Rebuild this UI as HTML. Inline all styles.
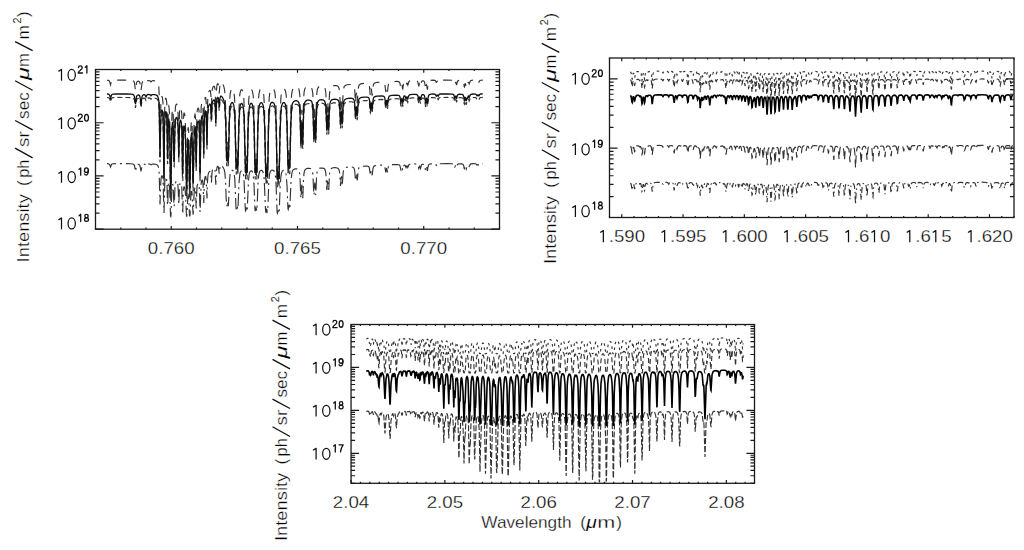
<!DOCTYPE html><html><head><meta charset="utf-8"><style>html,body{margin:0;padding:0;background:#fff;width:1024px;height:550px;overflow:hidden}svg{display:block}text{font-family:"Liberation Sans", sans-serif;fill:#000;stroke:#fff;stroke-width:0.3px}</style></head><body>
<svg width="1024" height="550" viewBox="0 0 1024 550">
<path d="M107.0 80.2l1.5 0.2 0.7 0.5 0.6 1 0.7 2.8 1 -3.4 0.5 -0.6 1 -0.4 3.5 -0.2 10.3 0.1 4 0.1 2 0.3 1 0.7 0.7 1.7 1 7.6 1 -7.5 0.5 -1.3 0.8 -0.6 0.7 -0.1 0.5 0.2 0.8 1 0.4 2.1 0.8 6.3 1 -7.6 0.5 -1.3 0.7 -0.7 1 -0.2 0.8 0.3 1 2 1 -2 0.5 -0.4 1 -0.2 1.5 0.2 1 1.1 0.8 -0.8 0.4 -0.3 1.3 -0.1 1.7 0.3 1.6 0.6 1 1.1 0.4 1.2 0.6 2.8 0.4 8.1 0.8 52.9 0.5 -32 0.5 -14.7 0.5 -3.8 0.3 -0.6 0.2 -0.1 0.5 1.3 0.5 5.1 0.5 23.4 0.5 51.3 0.5 -62.2 0.5 -14 0.5 -2.9 0.3 -0.3 0.2 0.2 0.5 2.1 0.3 2.6 0.4 19 0.3 27.6 0.3 -1.2 0.4 -37.4 0.3 -4 0.3 -0.9 0.2 0.9 0.5 6.8 0.3 8.1 0.7 74.7 0.3 4.3 0.7 -69.2 0.5 -17.6 0.5 -4.7 0.3 -0.1 0.2 1.3 0.2 3.3 0.8 38.6 0.2 0.1 0.6 -32.3 0.2 -7.5 0.5 -6.2 0.5 -2 0.2 -0.4 0.6 -0.1 0.4 0.9 0.6 2.8 0.4 10.7 0.6 29 0.7 -35.5 0.3 -2.9 0.4 -2 0.3 -0.1 0.3 0.2 0.4 1.7 0.6 5.1 0.2 6.8 0.5 48 0.3 1.6 0.4 -47.4 0.6 -9 0.2 -1 0.2 0 0.6 1.8 0.4 5.4 0.6 14.7 0.7 63.4 0.3 0.4 0.7 -59.3 0.3 -7.9 0.2 -3.5 0.2 -0.8 0.3 1.8 0.3 5.2 0.2 10.9 0.5 46.8 0.3 7.6 0.2 -8.4 0.8 -59.8 0.2 -6.1 0.5 -4.6 0.3 0.3 0.2 2.1 0.2 4.8 0.8 54.6 0.2 3.5 0.8 -58.6 0.2 -6.8 0.6 -5.6 0.2 -0.7 0.2 0.7 0.3 2.9 0.7 41.4 0.3 -25.3 0.5 -20.6 0.2 -2.7 0.6 -2.1 0.4 -0.5 0.3 0.1 0.5 2.4 0.5 11.5 0.5 50.1 0.2 -6.9 0.6 -47.7 0.4 -11 0.6 -3.2 0.2 -0.7 0.2 -0.1 0.3 0.4 0.5 5.2 0.8 35.5 0.4 -34.3 0.3 -6.2 0.5 -4.7 0.2 -0.8 0.3 -0.2 0.3 0.5 0.4 4.5 0.8 31.1 0.5 -28.9 0.5 -9.1 0.5 -2.8 0.5 -1.4 0.8 -1 0.4 0.2 0.3 0.6 0.5 5.7 0.2 7.9 0.3 0.5 0.3 -8.6 0.4 -7.2 0.6 -1.9 0.4 -0.9 0.8 -0.5 0.5 0.4 0.5 2.2 0.2 3.2 0.6 17.7 0.7 -20.4 0.5 -4.3 0.2 -0.7 0.6 -0.6 0.4 0.5 0.3 0.9 0.7 8.4 0.8 -9.1 0.5 -1.7 0.5 -0.5 0.8 0.6 0.7 1 1.3 2.6 0.7 3.3 0.5 4.3 0.8 16.7 0.7 36.1 0.3 5.2 0.7 -11.3 0.7 11.5 1.3 -48.4 0.7 -10.5 0.8 -3.2 0.5 -0.9 0.5 -0.3 0.8 0.3 0.4 0.8 0.8 2.8 0.5 4.3 0.5 9.8 1 49.7 0.2 5.7 0.8 -12.6 0.8 12.7 0.2 -5.7 0.8 -40.9 0.7 -18.4 0.5 -4.3 0.8 -2.6 0.4 -0.6 0.6 -0.1 0.4 0.4 0.6 1.1 0.4 2.1 0.6 4.4 0.4 9.8 1.3 60.6 0.3 -1.6 0.4 -11.1 0.3 2.1 0.5 11 0.2 -3.9 1 -54 0.6 -11.5 0.7 -6.6 0.5 -1.7 0.5 -0.9 0.5 -0.3 0.8 0.3 0.7 1.4 0.7 4.3 0.8 13.4 1 53.7 0.2 5.8 0.8 -13.2 0.8 13.2 0.2 -5.9 0.8 -44.1 0.7 -20.2 0.5 -4.8 0.8 -3.1 0.4 -0.9 0.8 -0.5 0.8 0.1 0.7 0.8 0.7 2.2 0.6 3.2 0.7 12.4 1.3 65.3 0.2 0.1 0.5 -11.9 0.3 0.7 0.4 11.9 0.3 -2 0.3 -11.7 0.7 -45.6 0.7 -17.3 0.6 -4.2 0.4 -2.1 0.6 -1.2 0.7 -0.9 1 -0.3 0.7 0.3 0.8 1 0.8 2.1 0.4 3.1 0.8 11.5 0.5 20.2 0.7 48.7 0.3 3.8 0.5 -11.2 0.2 -2.1 0.6 11.4 0.2 1.6 1 -57.5 0.8 -21.9 0.4 -5.2 0.6 -2.7 0.7 -1.9 0.7 -0.7 0.8 -0.1 0.5 0.3 0.5 0.6 0.5 1.3 0.5 2.4 0.5 5.1 0.7 21.6 0.8 39.8 0.2 1.9 0.6 -11.1 0.2 -0.7 0.5 11.1 0.3 -0.1 1 -49.6 0.7 -15.8 0.5 -3.9 0.5 -2 0.7 -1.6 1.3 -1 1.7 -0.3 1.6 0.5 1 1.4 0.4 1.8 0.6 4.2 0.2 4.3 0.8 31.4 0.2 2.2 0.8 -23.1 0.2 1.8 0.5 18.5 0.3 3.1 0.7 -31.4 0.5 -8.7 0.5 -3.2 0.5 -1.4 0.8 -1.1 1.2 -0.7 1.8 -0.3 1.7 0.5 1 0.9 0.7 2.1 0.6 3.6 0.2 3.9 0.8 27.5 0.2 2 0.8 -20.4 0.2 1.6 0.5 16.3 0.3 2.7 0.7 -27.6 0.5 -7.6 0.5 -2.8 0.5 -1.2 0.8 -1 1.2 -0.6 1.8 -0.2 1.7 0.3 1 0.9 0.7 1.8 0.6 3.5 0.2 3.7 0.8 21.8 0.2 -2.2 0.5 -12.9 0.3 -1.3 0.7 16.1 0.3 -1.6 0.4 -16.5 0.3 -5.2 0.5 -4.8 0.5 -1.9 0.5 -0.8 0.8 -0.7 1.2 -0.5 2.2 -0.2 2 0.4 1 0.7 0.8 1.6 0.5 3.1 0.3 3.3 0.7 17 0.7 -13 0.3 -0.3 0.7 13 0.8 -16 0.2 -3.8 0.6 -3.5 0.4 -1.4 0.6 -0.7 1 -0.7 1.2 -0.4 2.8 -0.3 2.2 0.1 1.2 0.5 0.8 1.1 0.5 2.3 0.3 2.4 0.7 12.3 0.7 -9.4 0.3 -0.3 0.7 9.6 0.8 -11.8 0.2 -2.7 0.6 -2.6 0.4 -1 0.6 -0.6 1 -0.5 1.2 -0.3 2.5 -0.3 2.3 0 1.2 0.3 0.8 0.6 0.4 1.1 0.3 1.2 0.7 8.6 0.3 0.6 0.7 -6.5 0.3 0.5 0.5 5.1 0.2 0.9 0.8 -8.8 0.5 -2.4 0.5 -0.9 0.5 -0.5 1 -0.4 1.5 -0.3 4.8 -0.3 1.4 0.3 0.8 0.4 0.5 0.7 0.3 0.9 1 7.4 0.7 -5 0.3 0.1 0.7 4.8 0.7 -6.4 0.6 -2.1 0.4 -0.7 0.6 -0.4 2 -0.5 5.2 -0.2 1.5 0.2 0.7 0.3 0.8 1.4 0.8 5.1 0.2 0.3 0.8 -3.8 0.2 0.3 0.5 3 0.3 0.6 0.7 -5.1 0.3 -0.9 0.4 -0.7 0.6 0 0.2 0.2 1 3.1 0.8 -2.2 0.2 -0.1 0.8 2.1 1 -3.4 0.7 -0.7 1 -0.3 2 -0.2 2.5 -0.1 1.5 0.2 0.7 0.4 0.6 0.8 1 4.5 0.7 -3.1 0.3 0.1 0.7 3 1 -4.7 0.7 -0.8 1 0 0.8 0.4 0.5 0.8 0.5 2.6 0.5 4.6 0.3 -0.1 0.4 -3.8 0.3 -0.6 0.3 0.6 0.4 3.7 0.3 0.1 0.5 -4.6 0.5 -2.6 0.7 -1.1 1.6 -0.5 2.2 -0.2 1.8 0.2 0.7 0.4 0.7 1.5 0.3 0.1 0.7 -1.2 0.3 0.1 0.7 1.1 0.8 -1.5 0.5 -0.5 0.7 -0.2 6.8 -0.1 5.2 0.2 1 0.3 0.6 0.5 1 3.6 0.2 -0.3 0.5 -1.8 0.3 -0.2 0.7 2.2 0.3 -0.2 0.4 -2.3 0.3 -0.7 0.5 -0.7 1.5 -0.4 2.3 0.2 1 0.4 0.4 0.6 0.6 1.7 0.4 3.5 0.3 0.3 0.5 -2.7 0.2 -0.6 0.3 0.3 0.7 3.5 0.6 -2.5 0.2 -0.6 0.5 0.3 0.7 -2.3 0.3 -0.1 0.3 0.3 0.4 1.3 1 -2.8 0.8 -0.6 2 -0.3 2.5 0.1 0.7 0.4 0.8 1.4 0.2 0 0.8 -1 0.8 1 0.2 0 0.5 -1 0.5 -0.6 1 -0.3 1.8 -0.1" fill="none" stroke="#333" stroke-width="1.15" stroke-dasharray="9 7"/>
<path d="M107.0 97.5l1.5 0.2 0.7 0.5 0.6 0.9 0.7 2.8 1 -3.3 0.5 -0.6 1 -0.4 3.5 -0.2 10.3 0.1 4 0.1 2 0.3 1 0.7 0.7 1.6 1 7.6 1 -7.5 0.5 -1.2 0.8 -0.6 0.7 -0.1 0.5 0.2 0.8 1 0.4 2.1 0.8 6.2 1 -7.5 0.5 -1.3 0.7 -0.7 1 -0.2 0.8 0.3 1 2 1 -2.1 0.5 -0.3 1 -0.2 1.5 0.2 1 1.1 0.8 -0.8 0.4 -0.3 1.3 -0.1 1.7 0.2 1.6 0.6 1 1.1 0.4 1.3 0.6 2.8 0.4 8 0.8 50.3 0.5 -29.9 0.5 -14.3 0.5 -3.7 0.3 -0.6 0.2 -0.1 0.5 1.2 0.5 5.1 0.5 22.6 0.3 32.6 0.2 10.8 0.5 -53.9 0.5 -13.6 0.5 -2.9 0.3 -0.3 0.2 0.2 0.5 2 0.3 2.7 0.4 18.3 0.3 25.5 0.3 -1 0.4 -35.1 0.3 -3.8 0.3 -0.9 0.2 0.8 0.5 6.7 0.3 7.7 0.7 58.6 0.3 1.9 0.2 -5.9 0.8 -56.2 0.2 -5.9 0.5 -4.5 0.3 -0.1 0.2 1.2 0.2 3.2 0.8 35.8 0.2 0.2 0.6 -29.8 0.2 -7.2 0.5 -6 0.5 -2 0.2 -0.4 0.6 -0.1 0.4 0.9 0.6 2.7 0.4 10.4 0.6 27 0.7 -33.3 0.3 -2.8 0.4 -1.9 0.3 -0.2 0.3 0.3 0.4 1.6 0.6 5 0.2 6.6 0.5 42.3 0.3 1.2 0.4 -41.5 0.6 -8.6 0.2 -1 0.2 -0.1 0.6 1.9 0.4 5.2 0.6 13.9 0.7 47 0.3 0.2 0.2 -9.5 0.5 -33.6 0.3 -7.3 0.2 -3.3 0.2 -0.8 0.6 6.6 0.7 44.5 0.3 3.7 0.2 -4.1 0.8 -46.8 0.2 -5.8 0.5 -4.3 0.3 0.2 0.2 2 0.2 4.6 0.8 45 0.2 2.2 0.8 -47.7 0.2 -6.4 0.6 -5.5 0.2 -0.6 0.2 0.6 0.3 2.8 0.7 37.7 0.3 -22.4 0.5 -19.6 0.2 -2.6 0.6 -2.1 0.4 -0.5 0.3 0.2 0.5 2.3 0.5 11.1 0.5 43.6 0.2 -5.2 0.6 -42.8 0.4 -10.6 0.6 -3.2 0.2 -0.7 0.2 -0.1 0.3 0.5 0.5 5 0.8 33.6 0.4 -32.4 0.3 -6.1 0.5 -4.6 0.2 -0.8 0.3 -0.2 0.3 0.5 0.4 4.5 0.8 29.8 0.5 -27.7 0.5 -8.9 0.5 -2.9 0.5 -1.3 0.8 -0.9 0.4 0.1 0.3 0.6 0.5 5.6 0.2 7.8 0.3 0.5 0.3 -8.5 0.4 -7.1 0.6 -1.9 0.4 -0.9 0.8 -0.4 0.5 0.3 0.5 2.2 0.2 3.2 0.6 17.4 0.7 -20.1 0.5 -4.2 0.2 -0.8 0.6 -0.5 0.4 0.4 0.3 0.9 0.7 8.4 0.8 -9 0.5 -1.7 0.5 -0.5 0.8 0.6 0.7 0.9 1.3 2.7 0.7 3.2 0.5 4.3 0.8 16.3 0.7 34 0.3 4.6 0.7 -10.1 0.7 10.2 0.3 -4.5 1 -40.9 0.7 -10.3 0.8 -3.2 0.8 -1 0.7 0 0.5 0.5 0.8 1.9 0.7 5.6 0.5 9.5 1 46.2 0.2 4.6 0.8 -10.6 0.8 10.7 0.2 -4.7 0.8 -37.5 0.7 -17.9 0.5 -4.3 0.8 -2.6 0.4 -0.6 0.6 -0.1 0.4 0.5 0.6 1 0.4 2.1 0.6 4.3 0.4 9.6 1.3 54.7 0.3 -1.2 0.4 -8.9 0.3 1.6 0.5 8.8 0.2 -3 1 -48.9 0.6 -11.3 0.7 -6.5 0.5 -1.7 0.5 -0.9 0.5 -0.3 0.8 0.3 0.7 1.4 0.7 4.2 0.8 13.2 1 49 0.2 4.5 0.8 -10.6 0.8 10.6 0.2 -4.5 1 -49 0.5 -10.5 0.5 -4.7 0.5 -2.4 0.5 -1.2 0.5 -0.6 0.7 -0.3 0.8 0.3 0.5 0.6 0.7 2.2 0.6 3.1 0.7 12.3 1.3 58 0.2 0.1 0.5 -9.1 0.3 0.6 0.4 9 0.3 -1.5 0.3 -9 0.7 -41.5 0.7 -16.9 0.6 -4.2 0.4 -2.1 0.6 -1.2 0.7 -0.9 0.7 -0.3 0.8 0.2 0.8 0.7 0.7 1.6 0.7 3.9 0.8 11.4 1 50.7 0.2 10.2 0.3 2.6 0.5 -7.9 0.2 -1.7 0.6 8.3 0.2 1.1 0.2 -5.5 0.8 -43.4 0.8 -21.3 0.4 -5.2 0.6 -2.6 0.7 -1.9 0.7 -0.7 0.8 -0.1 0.5 0.3 0.5 0.6 0.5 1.3 0.5 2.4 0.5 5 0.5 11.2 1 45.9 0.2 1.5 0.6 -9.3 0.2 -0.6 0.5 9.3 0.3 -0.1 1 -45.3 0.7 -15.5 0.5 -3.8 0.5 -2 1 -1.8 1.3 -0.9 1.7 -0.1 1.3 0.5 1 1.4 0.4 1.7 0.6 4.1 0.2 4.3 0.8 30.3 0.2 2.1 0.8 -22.2 0.2 1.8 0.5 17.7 0.3 3 0.7 -30.3 0.5 -8.5 0.5 -3.1 0.5 -1.5 1 -1.3 1.2 -0.6 2 -0.1 1.6 0.6 1 1.2 0.4 1.6 0.6 3.6 0.2 3.8 0.8 26.8 0.2 1.8 0.8 -19.6 0.2 1.6 0.5 15.7 0.3 2.6 0.7 -26.8 0.5 -7.5 0.5 -2.7 0.5 -1.3 0.8 -0.9 1.2 -0.7 1.8 -0.2 1.7 0.4 1 0.8 0.7 1.8 0.6 3.5 0.2 3.7 0.8 21.2 0.2 -2.1 0.5 -12.5 0.3 -1.3 0.7 15.6 0.3 -1.5 0.4 -16.1 0.3 -5.2 0.5 -4.7 0.5 -1.8 0.5 -0.9 0.8 -0.7 1.2 -0.5 2.2 -0.1 2 0.3 1 0.7 0.8 1.6 0.5 3.1 0.3 3.3 0.7 16.6 0.7 -12.7 0.3 -0.3 0.7 12.8 0.3 -2.7 0.5 -13 0.2 -3.8 0.6 -3.4 0.4 -1.4 0.6 -0.7 1 -0.7 1.2 -0.4 2.8 -0.3 2.2 0 1.2 0.6 0.8 1.1 0.5 2.2 0.3 2.4 0.7 12.2 0.7 -9.3 0.3 -0.3 0.7 9.4 0.8 -11.6 0.2 -2.7 0.6 -2.5 0.4 -1.1 0.6 -0.5 1 -0.5 1.2 -0.3 2.5 -0.3 2.3 0 1.2 0.2 0.8 0.6 0.4 1.1 0.3 1.2 0.7 8.6 0.3 0.6 0.7 -6.5 0.3 0.5 0.5 5.1 0.2 0.9 0.8 -8.8 0.5 -2.3 0.5 -0.9 0.5 -0.5 1 -0.4 1.5 -0.3 4.8 -0.3 1.4 0.2 0.8 0.5 0.5 0.7 0.3 0.8 1 7.4 0.7 -5 0.3 0.1 0.7 4.8 0.7 -6.4 0.6 -2 0.4 -0.7 0.6 -0.4 2 -0.5 5 -0.2 2.2 0.3 0.5 0.4 0.5 1.1 0.8 5.1 0.2 0.4 0.8 -3.8 0.2 0.3 0.5 3 0.3 0.5 0.7 -5.1 0.3 -0.8 0.4 -0.7 0.6 0 0.2 0.2 1 3.1 0.8 -2.2 0.2 -0.1 0.8 2.1 1 -3.4 0.7 -0.7 1 -0.3 2 -0.2 2.5 -0.1 1.5 0.2 0.7 0.4 0.6 0.7 1 4.6 0.7 -3.1 0.3 0.1 0.7 3 1 -4.7 0.7 -0.8 1 0 0.8 0.4 0.5 0.8 0.5 2.5 0.5 4.6 0.3 -0.1 0.4 -3.7 0.3 -0.6 0.3 0.6 0.4 3.7 0.3 0.1 0.5 -4.6 0.5 -2.6 0.7 -1.1 1.6 -0.5 2.2 -0.2 1.8 0.2 0.7 0.4 0.7 1.5 0.3 0.1 0.7 -1.2 0.3 0.1 0.7 1.1 0.8 -1.6 0.5 -0.4 0.7 -0.2 6.8 -0.1 5.2 0.2 1 0.3 0.6 0.5 1 3.5 0.2 -0.3 0.5 -1.8 0.3 -0.1 0.7 2.2 0.3 -0.2 0.4 -2.3 0.3 -0.7 0.5 -0.7 1.5 -0.4 2.3 0.2 1 0.4 0.4 0.6 0.6 1.7 0.4 3.4 0.3 0.4 0.5 -2.7 0.2 -0.6 0.3 0.3 0.7 3.5 0.6 -2.6 0.2 -0.5 0.5 0.2 0.7 -2.2 0.3 -0.2 0.3 0.4 0.4 1.2 1 -2.7 0.8 -0.6 2 -0.3 2.5 0.1 0.7 0.4 0.8 1.4 0.2 0 0.8 -1 0.8 1 0.2 0 0.5 -1 0.5 -0.6 1 -0.3 1.8 -0.1" fill="none" stroke="#333" stroke-width="1.15" stroke-dasharray="5 3"/>
<path d="M107.0 163.6l1.5 0.2 0.7 0.4 0.6 0.7 0.7 2.2 1 -2.6 0.5 -0.5 1 -0.3 13.8 -0.1 4 0.1 2 0.3 1 0.5 0.7 1.3 1 5.7 1 -5.7 0.5 -0.9 0.8 -0.5 1.2 0.1 0.8 0.8 0.4 1.6 0.8 4.6 1 -5.6 0.5 -1 0.7 -0.6 1 -0.1 0.8 0.2 1 1.5 1 -1.5 1.2 -0.4 1.8 0.1 1 0.8 1 -0.7 1.2 -0.2 2.6 0.3 1.4 0.7 0.6 0.5 0.4 1 0.6 2.1 0.2 2.2 0.2 3.7 0.8 30.1 0.5 -16 0.5 -9.6 0.5 -2.7 0.3 -0.4 0.2 -0.1 0.2 0.2 0.6 1.9 0.4 7 0.6 24.7 0.2 3.4 0.8 -30.8 0.4 -4.4 0.3 -0.7 0.3 -0.2 0.2 0.2 0.5 1.5 0.5 5.5 0.5 21.2 0.3 -0.4 0.4 -19.2 0.3 -2.6 0.3 -0.6 0.4 2.1 0.6 7.7 0.7 23.7 0.3 0.5 0.2 -1.6 0.8 -23.6 0.2 -3.7 0.5 -3 0.3 0 0.2 0.8 0.2 2.1 0.8 18.9 0.2 0 0.8 -19.6 0.2 -2.5 0.6 -2.4 0.4 -0.7 0.6 -0.1 0.2 0.2 0.5 1.1 0.3 1.2 0.4 6.7 0.6 14.3 0.7 -18.3 0.5 -2.8 0.5 -0.4 0.5 0.5 0.5 1.9 0.3 2.1 0.7 23.5 0.3 0.4 0.4 -18.6 0.3 -3.7 0.5 -2.3 0.2 0 0.3 0.4 0.5 2.1 0.5 5 1 21.8 0.3 0 0.2 -2.5 0.8 -16.3 0.2 -1.8 0.2 -0.4 0.6 3.6 0.7 16.5 0.3 1 0.2 -1.1 0.8 -17.8 0.2 -3.3 0.5 -2.5 0.3 0.1 0.2 1.2 0.2 2.7 0.8 18.3 0.2 0.6 0.8 -19.2 0.5 -6 0.5 -1.6 0.2 0.4 0.3 1.8 0.7 18.7 0.6 -17.9 0.2 -3.6 0.2 -1.7 0.6 -1.4 0.4 -0.3 0.6 0.6 0.4 3.3 0.3 4.7 0.5 19.6 0.2 -1.7 0.8 -25 0.2 -2.4 0.6 -2.3 0.4 -0.5 0.3 0.3 0.5 3.5 0.8 19.2 0.4 -18.4 0.3 -4.2 0.5 -3.2 0.2 -0.6 0.3 -0.1 0.3 0.3 0.4 3.2 0.8 18.4 0.5 -17 0.5 -6.3 0.5 -2 0.5 -1 0.8 -0.7 0.4 0.1 0.3 0.4 0.5 4.1 0.2 5.6 0.3 0.3 0.3 -6 0.4 -5.2 0.6 -1.5 0.4 -0.6 0.8 -0.4 0.5 0.3 0.5 1.6 0.2 2.4 0.6 12.3 0.7 -14.3 0.5 -3.2 0.2 -0.5 0.6 -0.5 0.4 0.4 0.3 0.7 0.7 6.2 0.8 -6.7 0.5 -1.3 0.5 -0.4 1.2 0.9 1.3 1.8 0.7 1.9 0.6 2.3 0.7 8.1 0.7 18.9 0.6 7.1 0.7 -4.5 0.7 4.5 0.3 -1.9 1 -23.5 0.7 -7.3 0.8 -2.4 0.8 -0.8 0.4 0 0.6 0.2 0.4 0.5 0.6 1.2 0.4 2.2 0.6 4.5 1 23.9 0.2 4.9 0.2 1.7 0.8 -4.1 0.8 4.1 0.2 -1.6 1 -24.8 0.8 -8.4 0.4 -2.1 0.8 -1.4 0.5 -0.2 0.5 0.1 0.8 1 0.7 2.8 0.5 4.6 1 24.2 0.5 7.4 0.3 -0.4 0.4 -3.2 0.8 3.7 0.2 -1 1.3 -29.3 0.7 -6.8 0.6 -1.8 0.4 -0.9 0.8 -0.5 0.5 0.1 0.5 0.3 0.8 1.6 0.4 2.4 0.8 9.2 0.8 20.5 0.2 4.6 0.2 1.6 0.8 -3.8 0.8 3.8 0.2 -1.6 1 -25.2 0.5 -7.2 0.5 -3.4 0.8 -2.3 1 -1 0.7 0 0.5 0.2 0.5 0.5 0.5 0.8 0.8 3 0.4 4.7 1.3 30.1 0.3 2.4 0.2 0 0.5 -3 0.3 0.2 0.4 2.9 0.3 -0.4 0.3 -3 1 -26.2 0.7 -8 0.7 -2.9 0.8 -1.1 0.5 -0.4 0.7 -0.2 1.3 0.4 0.7 0.9 0.8 2.2 0.8 5.6 0.4 8.9 0.8 21.3 0.2 3.3 0.3 0.7 0.7 -2.9 0.6 2.6 0.2 0.3 0.2 -1.7 1 -25.9 0.8 -9.9 0.5 -2.7 0.5 -1.4 0.8 -1 0.7 -0.4 1 0.2 0.7 0.9 0.6 1.2 0.4 2.6 0.8 9.8 0.8 20.2 0.2 3.6 0.2 0.5 0.6 -3.5 0.2 -0.3 0.5 3.6 0.3 0 1.2 -28.1 0.8 -7.4 0.4 -2 0.8 -1.5 0.8 -0.7 1.2 -0.5 1.5 -0.1 1.3 0.4 1 1.1 0.4 1.3 0.6 3 0.2 3.1 0.8 19.2 0.2 1.2 0.8 -13.4 0.2 1.2 0.5 10.7 0.3 1.6 0.7 -18.8 0.5 -6.1 0.5 -2.4 0.5 -1.1 1 -0.9 1.2 -0.5 2 -0.1 1.6 0.5 1 0.9 0.4 1.2 0.6 2.6 0.2 2.8 0.8 17.6 0.2 1 0.8 -12.3 0.2 1.1 0.5 9.9 0.3 1.5 0.7 -17.3 0.5 -5.4 0.5 -2.1 0.5 -0.9 1 -0.9 1.2 -0.4 2 0 1.6 0.3 1 0.8 0.4 1.1 0.6 2.6 0.2 2.7 0.8 14.3 0.2 -1.3 0.5 -8.3 0.3 -0.9 0.7 10.4 0.3 -1 0.7 -14.6 0.5 -3.5 0.5 -1.3 0.5 -0.7 0.8 -0.5 1.2 -0.4 2.2 -0.1 2 0.3 1 0.5 0.8 1.2 0.5 2.3 0.3 2.4 0.7 11.6 0.7 -8.7 0.3 -0.3 0.7 8.8 1 -13.6 0.6 -2.6 0.4 -1.1 0.8 -0.7 2.2 -0.7 2.6 -0.2 2.2 0.1 1.2 0.4 0.8 0.8 0.5 1.7 0.3 1.8 0.7 8.8 0.7 -6.7 0.3 -0.2 0.7 6.7 0.3 -1.4 0.5 -6.9 0.2 -2 0.6 -1.9 0.4 -0.8 0.6 -0.4 2.2 -0.6 4.8 -0.3 1.2 0.2 0.8 0.5 0.4 0.8 0.3 0.9 0.7 6.4 0.3 0.4 0.7 -4.7 0.3 0.3 0.5 3.8 0.2 0.6 0.8 -6.5 0.5 -1.8 0.5 -0.7 0.5 -0.3 2.5 -0.6 4.8 -0.2 1.4 0.2 0.8 0.3 0.8 1.2 1 5.6 0.7 -3.8 0.3 0.1 0.7 3.6 0.7 -4.8 0.6 -1.5 1 -0.9 2 -0.4 5 -0.1 2.2 0.2 0.5 0.3 0.5 0.9 0.8 3.8 0.2 0.3 0.8 -2.9 0.2 0.3 0.5 2.2 0.3 0.4 0.7 -3.8 0.3 -0.6 0.4 -0.6 0.8 0.2 1 2.3 0.8 -1.7 0.2 0 0.8 1.6 1 -2.6 0.7 -0.6 3.3 -0.4 3.7 0.1 0.7 0.3 0.6 0.6 1 3.5 0.7 -2.3 0.3 0 0.7 2.3 1 -3.6 0.7 -0.6 1 0 0.8 0.3 0.5 0.6 0.5 2 0.5 3.4 0.3 -0.1 0.4 -2.8 0.3 -0.4 0.3 0.4 0.4 2.8 0.3 0.1 0.5 -3.5 0.5 -1.9 0.7 -0.9 1.6 -0.4 4 0 0.7 0.3 0.7 1.1 0.3 0.1 0.7 -0.8 1 0.8 0.8 -1.1 0.5 -0.4 0.7 -0.1 6.8 -0.1 5.2 0.1 1 0.3 0.6 0.3 1 2.8 0.2 -0.3 0.5 -1.3 0.3 -0.2 0.7 1.7 0.3 -0.1 0.4 -1.8 0.8 -1 1.5 -0.3 2.3 0.1 1 0.3 0.4 0.4 0.6 1.3 0.4 2.7 0.3 0.2 0.7 -2.5 0.3 0.3 0.7 2.6 0.6 -1.9 0.2 -0.4 0.5 0.2 0.7 -1.8 0.3 -0.1 0.3 0.3 0.4 0.9 1 -2 0.8 -0.5 2 -0.2 2.5 0.1 0.7 0.3 0.8 1 0.2 0 0.8 -0.7 0.8 0.7 0.2 0 1 -1.2 2.8 -0.3" fill="none" stroke="#333" stroke-width="1.15" stroke-dasharray="13 4 2 4"/>
<path d="M107.0 94.0l1.5 0.2 0.7 0.5 0.6 0.9 0.7 2.8 1 -3.3 0.5 -0.6 1 -0.4 3.5 -0.2 10.3 0.1 4 0.1 2 0.3 1 0.7 0.7 1.6 1 7.5 1 -7.4 0.5 -1.2 0.8 -0.6 0.7 -0.1 0.5 0.2 0.8 1 0.4 2 0.8 6.2 1 -7.5 0.5 -1.2 0.7 -0.7 1 -0.2 0.8 0.3 1 2 1 -2.1 0.5 -0.3 0.7 -0.2 1.8 0.2 1 1.1 0.8 -0.9 0.4 -0.2 2.6 0 1.7 0.6 1 0.8 0.7 1.7 0.6 2.8 0.4 7.9 0.8 49 0.5 -28.8 0.5 -14.1 0.2 -2.5 0.6 -1.8 0.2 -0.1 0.2 0.3 0.6 2.6 0.4 10 0.6 46.2 0.2 9.4 0.5 -50.3 0.5 -13.5 0.5 -2.8 0.3 -0.3 0.2 0.2 0.5 2 0.3 2.6 0.4 18.1 0.3 24.4 0.3 -0.9 0.4 -33.9 0.3 -3.8 0.3 -0.9 0.2 0.8 0.5 6.6 0.3 7.6 0.7 53 0.3 1.4 0.2 -4.6 0.8 -51.4 0.2 -5.8 0.5 -4.4 0.3 -0.2 0.2 1.3 0.2 3.1 0.8 34.4 0.2 0.2 0.6 -28.5 0.2 -7.1 0.5 -5.9 0.5 -2 0.2 -0.4 0.6 -0.1 0.4 0.9 0.6 2.7 0.4 10.2 0.6 26 0.7 -32.1 0.3 -2.9 0.4 -1.8 0.3 -0.2 0.3 0.3 0.4 1.6 0.6 4.9 0.2 6.4 0.5 39.7 0.3 1.1 0.4 -38.8 0.6 -8.4 0.2 -1 0.2 0 0.3 0.5 0.5 3.2 0.5 8.2 1 50.1 0.3 0.1 0.2 -7.5 0.8 -37.4 0.2 -3.1 0.2 -0.8 0.6 6.4 0.7 39.8 0.3 2.9 0.2 -3.2 0.8 -42.1 0.2 -5.6 0.5 -4.3 0.3 0.3 0.2 1.9 0.2 4.5 0.8 41.2 0.2 1.7 0.8 -43.4 0.5 -9.7 0.5 -2.5 0.2 0.6 0.3 2.7 0.7 35.9 0.6 -34.5 0.2 -5.6 0.2 -2.6 0.6 -2 0.4 -0.5 0.3 0.1 0.3 0.7 0.4 5 0.3 7.5 0.5 40.8 0.2 -4.6 0.6 -40.4 0.4 -10.5 0.6 -3.2 0.2 -0.6 0.2 -0.2 0.3 0.5 0.5 5 0.8 32.6 0.4 -31.5 0.3 -6 0.5 -4.5 0.2 -0.8 0.3 -0.2 0.3 0.5 0.4 4.4 0.8 29.2 0.5 -27.1 0.5 -8.8 0.5 -2.8 0.5 -1.4 0.8 -0.9 0.4 0.1 0.3 0.7 0.5 5.5 0.2 7.8 0.3 0.4 0.3 -8.4 0.4 -7 0.6 -1.9 0.4 -0.9 0.8 -0.5 0.5 0.4 0.5 2.2 0.2 3.2 0.6 17.2 0.7 -19.9 0.5 -4.2 0.2 -0.8 0.6 -0.5 0.4 0.4 0.3 0.9 0.7 8.3 0.8 -9 0.5 -1.6 0.5 -0.5 0.8 0.6 0.7 0.9 1.3 2.6 0.7 3.2 0.5 4.3 0.8 16.2 0.7 32.8 0.3 4.3 0.7 -9.5 0.7 9.6 0.3 -4.2 1 -39.7 0.7 -10.2 0.8 -3.2 0.8 -1 0.7 0 0.5 0.5 0.8 1.9 0.7 5.6 0.5 9.4 1 44.4 0.2 4.2 0.8 -9.7 0.8 9.7 0.2 -4.1 1 -44.3 0.8 -11.9 0.4 -2.8 0.8 -1.8 0.5 -0.3 0.5 0.1 0.8 1.3 0.4 2.1 0.6 4.3 0.4 9.5 1.3 52 0.3 -1.1 0.4 -8.1 0.3 1.6 0.5 7.8 0.2 -2.6 1 -46.6 0.6 -11.1 0.7 -6.5 0.5 -1.7 0.5 -0.8 0.5 -0.4 0.8 0.3 0.7 1.5 0.7 4.1 0.8 13.1 1 46.7 0.2 4 0.8 -9.5 0.8 9.5 0.2 -4 1 -46.8 0.5 -10.3 0.5 -4.7 0.5 -2.3 0.5 -1.2 0.5 -0.7 0.7 -0.3 0.8 0.3 0.5 0.7 0.5 1.2 0.5 2.2 0.7 8.3 0.6 14.1 1 46.4 0.2 0.1 0.5 -8 0.3 0.5 0.4 7.9 0.3 -1.3 0.3 -8 0.7 -39.6 0.7 -16.6 0.6 -4.2 0.4 -2.1 0.6 -1.2 0.7 -0.8 0.7 -0.3 0.8 0.2 0.8 0.6 0.7 1.6 0.5 2.2 0.8 7.7 0.4 13.1 0.8 40.7 0.2 8.9 0.3 2.2 0.7 -8.2 0.6 7.2 0.2 0.8 0.2 -4.6 0.8 -40.6 0.8 -21 0.4 -5.2 0.6 -2.6 0.7 -1.8 0.7 -0.8 0.8 0 0.5 0.2 0.5 0.7 0.5 1.2 0.5 2.4 0.5 5 0.5 11.1 1 43.8 0.2 1.4 0.6 -8.5 0.2 -0.6 0.5 8.6 0.3 -0.1 1 -43.2 0.7 -15.4 0.5 -3.8 0.5 -2 1 -1.8 1.3 -0.8 1.7 -0.2 1.3 0.5 1 1.4 0.4 1.8 0.6 4.1 0.2 4.2 0.8 29.7 0.2 2 0.8 -21.6 0.2 1.8 0.5 17.3 0.3 2.8 0.7 -29.6 0.5 -8.5 0.5 -3.1 0.5 -1.4 1 -1.3 1.2 -0.6 2 -0.1 1.6 0.5 1 1.3 0.4 1.5 0.6 3.6 0.2 3.8 0.8 26.3 0.2 1.9 0.8 -19.3 0.2 1.5 0.5 15.5 0.3 2.5 0.7 -26.3 0.5 -7.4 0.5 -2.8 0.5 -1.2 0.8 -1 1.2 -0.6 1.8 -0.2 1.7 0.3 1 0.9 0.7 1.8 0.6 3.4 0.2 3.7 0.8 20.9 0.2 -2.1 0.5 -12.3 0.3 -1.2 0.7 15.4 0.3 -1.5 0.4 -16 0.3 -5 0.5 -4.7 0.5 -1.9 0.5 -0.8 0.8 -0.7 1.2 -0.5 2.2 -0.2 2 0.4 1 0.7 0.8 1.6 0.5 3 0.3 3.3 0.7 16.4 0.7 -12.5 0.3 -0.3 0.7 12.6 0.3 -2.7 0.5 -12.8 0.2 -3.7 0.6 -3.5 0.4 -1.3 0.6 -0.7 1 -0.7 1.2 -0.4 2.8 -0.4 2.2 0.1 1.2 0.5 0.8 1.1 0.5 2.2 0.3 2.4 0.7 12.1 0.7 -9.2 0.3 -0.3 0.7 9.3 0.8 -11.4 0.2 -2.8 0.6 -2.5 0.4 -1 0.6 -0.5 1 -0.5 1.2 -0.3 2.5 -0.3 2.3 0 1.2 0.2 0.8 0.6 0.4 1.1 0.3 1.2 0.7 8.5 0.3 0.6 0.7 -6.4 0.3 0.5 0.5 5 0.2 0.9 0.8 -8.7 0.5 -2.4 0.5 -0.9 0.5 -0.4 1 -0.4 1.5 -0.3 4.8 -0.3 1.4 0.2 0.8 0.4 0.5 0.8 0.3 0.8 1 7.3 0.7 -4.9 0.3 0.1 0.7 4.8 0.7 -6.4 0.6 -2 0.4 -0.8 0.6 -0.3 2 -0.5 5 -0.2 2.2 0.3 0.5 0.4 0.5 1.1 0.8 5 0.2 0.4 0.8 -3.7 0.2 0.2 0.5 3 0.3 0.6 0.7 -5.1 0.3 -0.8 0.4 -0.7 0.6 0 0.2 0.2 1 3.1 0.8 -2.3 0.2 0 0.8 2 1 -3.3 0.7 -0.7 1 -0.3 2 -0.2 2.5 -0.1 1.5 0.2 0.7 0.4 0.6 0.7 1 4.5 0.7 -3 0.3 0.1 0.7 3 1 -4.7 0.7 -0.8 1 0 0.8 0.4 0.5 0.8 0.5 2.5 0.5 4.6 0.3 -0.1 0.4 -3.8 0.3 -0.6 0.3 0.6 0.4 3.7 0.3 0.1 0.5 -4.5 0.5 -2.6 0.7 -1.1 1.6 -0.5 2.2 -0.2 1.8 0.2 0.7 0.4 0.7 1.4 0.3 0.2 0.7 -1.2 0.3 0.1 0.7 1.1 0.8 -1.6 0.5 -0.4 0.7 -0.2 6.8 -0.1 5.2 0.2 1 0.3 0.6 0.5 1 3.5 0.2 -0.3 0.5 -1.8 0.3 -0.1 0.7 2.2 0.3 -0.2 0.4 -2.3 0.3 -0.7 0.5 -0.7 1.5 -0.4 2.3 0.2 1 0.3 0.4 0.6 0.6 1.7 0.4 3.5 0.3 0.3 0.7 -3.2 0.3 0.3 0.7 3.4 0.6 -2.5 0.2 -0.6 0.5 0.3 0.7 -2.2 0.3 -0.2 0.3 0.4 0.4 1.2 1 -2.7 0.8 -0.6 2 -0.3 2.5 0.1 0.7 0.4 0.8 1.4 0.2 0 0.8 -1 0.8 1 0.2 0 0.5 -1 0.5 -0.6 1 -0.3 1.8 -0.1" fill="none" stroke="#111" stroke-width="1.3"/>
<path d="M630.5 71.8l0.7 1.4 0.8 5.4 0.2 0.3 0.6 -4 0.4 -1.7 0.3 0 0.3 0.2 0.2 0.8 0.5 3.3 0.3 -0.2 0.4 -2.7 0.6 -1.4 0.7 -1.3 1 -0.3 1 0 0.5 0.4 0.8 0.9 0.4 -0.5 0.3 0 0.5 0.7 0.2 0.8 0.8 6.4 0.2 -0.4 0.6 -4.8 0.4 -1.5 0.3 0 0.3 0.5 0.2 1.1 0.5 4.2 0.3 -0.7 0.4 -4.4 0.3 -1.1 0.5 -0.9 0.8 -0.3 0.7 0.9 0.3 -0.1 0.4 -0.8 0.6 -0.4 0.7 0 0.7 0.1 0.8 0.7 0.5 1.4 0.7 6.8 1 -7.4 0.8 -1.3 1 -0.5 2.8 -0.2 3.4 0.1 0.8 0.3 0.8 1.3 0.2 0.1 0.5 -1.1 0.5 -0.5 1 -0.2 1.8 0.1 1 0.3 1 1.5 0.4 -1 0.6 -0.6 1.2 -0.1 1.2 0.2 0.6 0.4 0.4 0.9 1 6.4 0.8 -5.7 0.2 -0.7 0.6 -0.6 0.4 0.3 0.8 2.3 0.8 -2.5 0.7 -0.8 1 -0.1 1 0.4 0.7 -0.2 0.6 0.5 0.4 1.3 0.3 0.1 0.5 -1.4 0.5 -0.5 1.3 -0.3 1.2 0.3 0.5 0.4 0.5 1.1 0.8 5.5 0.2 -0.2 0.5 -4.3 0.3 -1.1 0.4 -1 0.6 -0.4 0.7 -0.1 1 0.1 0.5 0.2 0.5 0.9 0.7 2.9 0.8 -3.1 0.5 -0.7 1 -0.2 0.7 0.3 0.6 0.8 0.7 2.9 0.7 -2.1 0.8 0.4 0.2 0.4 0.6 3.2 0.4 6.9 0.8 -8.3 0.5 -2.1 0.3 -0.1 0.2 0.4 0.5 2.3 0.3 -0.1 0.4 -1.6 0.6 0.4 0.4 -1.9 0.3 -0.6 0.5 -0.3 0.5 0.4 0.7 2.6 0.3 -0.1 0.7 -2.7 0.6 -0.4 0.4 0.2 0.3 0.3 0.5 1.6 0.2 1.8 0.6 5.6 0.7 -6.9 0.5 -1.8 0.5 -0.6 0.3 0 0.7 1.4 0.3 -0.1 0.4 -1.3 1 -0.9 0.6 0 0.4 0.2 1 1.8 1 -1.9 0.6 -0.1 0.7 0.5 1 -0.7 0.7 0.1 0.8 0.7 1 -0.6 0.8 0.1 1 1.4 0.7 -0.5 0.5 0.9 0.2 1.2 0.6 5 0.2 0.7 1 -6.6 0.5 -1.3 0.5 -0.4 0.5 0.1 0.3 0.3 0.4 1.4 0.3 0.2 0.7 -1.9 0.6 -0.3 0.4 0.2 0.6 0.9 0.4 2.6 0.3 0.1 0.5 -2.5 0.2 -0.7 0.6 -0.5 0.4 -0.1 0.6 0.5 0.7 2 0.7 -2.1 0.6 -0.4 0.7 0.2 0.5 1 0.5 2.5 0.3 -0.2 0.7 -3 0.3 -0.2 0.4 -0.2 0.6 0.4 0.2 0.4 0.8 3.8 0.2 -0.3 0.8 -3.6 0.2 -0.3 0.5 -0.2 0.5 0.3 0.2 0.5 0.8 4.5 0.2 0.6 0.8 -4.7 0.5 -0.8 0.5 -0.1 0.5 0.7 0.3 0.7 0.7 6.5 0.3 -0.5 0.7 -6 0.3 -0.6 0.4 -0.4 0.6 0.4 0.4 1.7 0.8 9 0.2 -0.2 0.6 -5.9 0.2 -0.7 0.2 0.4 0.3 -0.4 0.5 -2.5 0.2 -0.5 0.3 0 0.3 0.6 0.2 1.2 0.8 7.9 0.7 -8.7 0.5 -1.8 0.5 -0.5 0.5 0.2 0.5 1.2 0.7 7.2 0.3 0.7 0.7 -7.6 0.6 -1.4 0.4 -0.3 0.6 0.3 0.4 1.3 1 9.8 0.8 -8.9 0.2 -1.1 0.6 -0.8 0.4 0.1 0.3 0.5 0.5 2.1 0.5 4.5 0.5 10.2 0.2 -1.7 0.8 -12.9 0.5 -2.1 0.5 -0.6 0.5 0.3 0.3 0.5 0.4 2.7 0.8 13.3 1 -14.5 0.5 -2 0.5 -0.5 0.5 0.2 0.3 0.4 0.4 2.2 0.8 12.1 0.2 -0.4 0.8 -12 0.5 -2.1 0.5 -0.6 0.5 0 0.5 0.8 0.5 2.6 0.7 11.4 0.8 -11.1 0.5 -2.9 0.3 -0.6 0.4 -0.5 0.6 0.1 0.2 0.2 0.5 1.3 0.5 4.1 0.5 7.5 0.7 -9.9 0.3 -1.6 0.5 -1.4 0.5 -0.4 0.5 0.1 0.5 0.6 0.3 0.8 0.4 3.7 0.6 7.9 0.2 -0.7 0.5 -8.1 0.5 -3.1 0.2 -0.6 0.6 -0.5 1 0.6 0.4 1 0.3 1.4 0.7 10.3 1 -11 0.3 -0.5 0.5 0.2 0.5 -1.4 0.5 -0.6 0.5 0.3 0.5 1.6 0.8 8.5 1 -9.3 0.4 -1.4 0.8 -0.6 0.5 0 0.5 0.1 0.5 0.7 0.7 4.3 0.3 0.6 0.7 -4.7 0.6 -0.9 0.4 -0.4 1 -0.1 0.8 0.5 0.5 1 0.5 2.8 0.2 0.1 0.6 -2.7 0.2 -0.7 0.5 -0.6 0.5 0 0.2 0.2 0.8 2 0.2 0.1 0.8 -2 0.2 0 0.3 0.2 0.7 1.3 0.3 -0.2 0.5 -1.4 0.8 -0.7 1.7 -0.3 2 0.2 0.5 0.3 0.5 0.7 0.7 3.4 0.3 -0.4 0.7 -3.2 0.8 -0.6 1.2 0 0.8 0.4 0.5 0.9 0.7 4.8 0.3 -0.2 0.5 -3.8 0.5 -1.4 0.7 -0.6 1 0 0.8 0.3 0.5 0.9 1 6.4 0.5 -4.1 0.5 -2.3 0.7 -0.9 1 -0.1 0.6 0.3 0.4 0.6 0.6 1.5 1 11.3 0.7 -10.2 0.5 -2.2 0.5 -0.8 0.7 -0.4 0.8 0.2 0.5 0.5 0.5 1.2 0.5 3.8 0.5 7 0.8 -9.1 0.4 -2.4 0.6 -0.8 0.4 -0.3 0.8 0 0.8 0.4 0.4 1 0.6 2.8 0.4 7.7 0.3 1.4 0.7 -10.1 0.3 -1.3 0.5 -1.2 0.5 -0.4 0.5 -0.1 0.5 0.4 0.7 1.5 0.6 0.3 0.2 1 1 12.5 0.5 -9.2 0.5 -4.3 0.8 -1.8 0.4 -0.3 0.6 -0.1 0.4 0.2 0.6 0.5 0.4 1.3 0.3 1.2 0.5 6 0.5 11.6 0.7 -12.5 0.6 -5.3 0.2 -1.2 0.5 -1.1 0.5 -0.5 0.5 -0.1 0.5 0 0.5 0.4 0.5 1.1 0.2 1.2 1 13.8 0.6 -9.2 0.4 -5 0.8 -2.1 1 -0.6 0.8 0.1 0.4 0.3 0.8 1.7 0.5 4 0.5 7.2 0.8 -9.6 0.4 -2.4 0.6 -0.9 0.7 -0.4 1 0 0.7 0.6 0.6 1.2 0.2 1.2 0.8 10.7 0.2 0.4 0.5 -8.6 0.5 -3.7 0.8 -1.5 1 -0.5 1.2 0.2 0.8 1 0.4 2.5 0.6 6 0.2 -0.2 0.5 -6 0.5 -2.3 0.5 -0.9 0.7 -0.4 1.3 0 0.7 0.5 0.6 0.8 0.4 2.3 0.6 6.3 0.2 1.3 0.5 -6.5 0.5 -3.1 0.8 -1.3 1 -0.4 0.7 0.1 0.7 0.2 0.8 1.2 0.5 2.6 0.5 6.2 0.2 -0.5 0.8 -7.6 0.2 -0.9 0.6 -0.8 1.2 -0.6 1.5 0.3 0.7 0.8 0.6 2.1 0.4 5 0.3 -0.2 0.7 -6.2 0.8 -1.4 1 -0.5 1.5 0 1 0.6 0.5 1.1 0.8 4 0.4 -3.2 0.6 -1.6 0.4 -0.6 0.6 -0.2 0.7 0 0.7 0.3 0.6 0.7 0.7 2.2 0.5 -1.1 0.2 -0.1 0.3 0.6 0.5 3.4 0.2 0.4 0.8 -4.9 0.8 -1.3 1 -0.4 1.7 0 1 0.5 0.5 0.8 0.8 3.2 0.7 -3.4 0.5 -0.7 0.5 -0.3 1 -0.2 2 0.3 0.5 0.4 0.5 1 0.7 4.1 1 -4.6 0.6 -0.7 0.7 -0.4 1.7 -0.1 1.6 0.2 0.7 0.8 0.5 1.6 0.2 -0.1 0.8 -1.9 0.8 -0.4 0.7 0.1 0.5 0.4 0.8 1.7 0.7 0.5 0.5 -1.5 0.5 -0.7 0.5 0 0.2 0.2 0.8 1.4 0.5 -1.3 0.5 -0.6 0.8 -0.3 0.7 0.1 1.5 0.9 0.8 2.5 1 -2.6 0.4 0 0.6 0.9 0.2 -0.1 0.5 -1.1 0.5 -0.4 1.5 -0.1 1 0.6 0.7 2.5 0.3 0.2 0.7 -2.2 0.3 -0.2 0.5 0.4 0.5 1.5 0.7 6.8 0.3 0.1 0.5 -5.8 0.5 -2.5 0.7 -1.1 1.3 -0.4 2.5 0 1 0.7 0.8 -0.6 0.7 -0.2 1.7 0 1.3 0.2 0.5 0.4 0.5 0.9 0.7 3.7 0.6 -0.7 1 -3.5 0.4 -0.6 0.8 -0.2 0.8 0 0.7 0.6 0.7 -0.3 0.6 0.2 0.4 1 0.6 2.1 1 -3 1.7 -0.7 1 0.2 0.5 0.4 0.8 2.5 0.2 0.2 0.8 -2.7 0.7 -0.6 1.3 -0.2 1.2 0.2 0.8 -0.2 1.4 -0.1 4 0.3 0.8 0.3 0.5 0.7 0.7 2.5 0.3 0.2 0.7 -2.7 0.6 -0.5 0.4 0 0.6 0.4 0.4 1.2 0.8 5 0.8 -4 0.4 -0.5 0.6 -1.5 0.7 -0.8 2.5 -0.3 1 0.1 0.8 0.5 0.4 1 0.8 4.5 0.2 0.4 1 -5.1 0.8 -0.9 1 0.1 0.5 0.5 0.5 1.7 0.5 3 0.7 -4.2 0.8 -1.3 0.8 -0.3 1.2 -0.1 1 0.1 0.8 0.4 0.4 0.9 0.8 3.4 0.8 -3.5 0.4 -0.8 0.6 -0.4" fill="none" stroke="#333" stroke-width="1.15" stroke-dasharray="2.5 3.5"/>
<path d="M630.5 79.6l0.7 1.4 0.8 5.4 0.2 0.3 0.6 -4 0.4 -1.7 0.3 0 0.3 0.2 0.2 0.8 0.5 3.3 0.3 -0.2 0.4 -2.7 0.6 -1.4 0.7 -1.3 1 -0.3 1 0 0.5 0.4 0.8 0.9 0.4 -0.5 0.3 0 0.5 0.7 0.2 0.8 0.8 6.4 0.2 -0.4 0.6 -4.8 0.4 -1.5 0.3 0 0.3 0.5 0.2 1.1 0.5 4.2 0.3 -0.7 0.4 -4.4 0.3 -1.1 0.5 -0.9 0.8 -0.3 0.7 0.9 0.3 -0.1 0.4 -0.8 0.6 -0.4 0.7 0 0.7 0.1 0.8 0.7 0.5 1.4 0.7 6.8 1 -7.4 0.8 -1.3 1 -0.5 2.8 -0.2 3.4 0.1 0.8 0.3 0.8 1.3 0.2 0.1 0.5 -1.1 0.5 -0.5 1 -0.2 1.8 0.1 1 0.3 1 1.5 0.4 -1 0.6 -0.6 1.2 -0.1 1.2 0.2 0.6 0.4 0.4 0.9 1 6.4 0.8 -5.7 0.2 -0.7 0.6 -0.6 0.4 0.3 0.8 2.3 0.8 -2.5 0.7 -0.8 1 -0.1 1 0.4 0.7 -0.2 0.6 0.5 0.4 1.3 0.3 0.1 0.5 -1.4 0.5 -0.5 1.3 -0.3 1.2 0.3 0.5 0.4 0.5 1.1 0.8 5.5 0.2 -0.2 0.5 -4.3 0.3 -1.1 0.4 -1 0.6 -0.4 0.7 -0.1 1 0.1 0.5 0.2 0.5 0.9 0.7 2.9 0.8 -3.1 0.5 -0.7 1 -0.2 0.7 0.3 0.6 0.8 0.7 2.9 0.7 -2.1 0.8 0.4 0.2 0.4 0.6 3.2 0.4 6.9 0.8 -8.3 0.5 -2.1 0.3 -0.1 0.2 0.4 0.5 2.3 0.3 -0.1 0.4 -1.6 0.6 0.4 0.4 -1.9 0.3 -0.6 0.5 -0.3 0.5 0.4 0.7 2.6 0.3 -0.1 0.7 -2.7 0.6 -0.4 0.4 0.2 0.3 0.3 0.5 1.6 0.2 1.8 0.6 5.6 0.7 -6.9 0.5 -1.8 0.5 -0.6 0.3 0 0.7 1.4 0.3 -0.1 0.4 -1.3 1 -0.9 0.6 0 0.4 0.2 1 1.8 1 -1.9 0.6 -0.1 0.7 0.5 1 -0.7 0.7 0.1 0.8 0.7 1 -0.6 0.8 0.1 1 1.4 0.7 -0.5 0.5 0.9 0.2 1.2 0.6 5 0.2 0.7 1 -6.6 0.5 -1.3 0.5 -0.4 0.5 0.1 0.3 0.3 0.4 1.4 0.3 0.2 0.7 -1.9 0.6 -0.3 0.4 0.2 0.6 0.9 0.4 2.6 0.3 0.1 0.5 -2.5 0.2 -0.7 0.6 -0.5 0.4 -0.1 0.6 0.5 0.7 2 0.7 -2.1 0.6 -0.4 0.7 0.2 0.5 1 0.5 2.5 0.3 -0.2 0.7 -3 0.3 -0.2 0.4 -0.2 0.6 0.4 0.2 0.4 0.8 3.8 0.2 -0.3 0.8 -3.6 0.2 -0.3 0.5 -0.2 0.5 0.3 0.2 0.5 0.8 4.5 0.2 0.6 0.8 -4.7 0.5 -0.8 0.5 -0.1 0.5 0.7 0.3 0.7 0.7 6.5 0.3 -0.5 0.7 -6 0.3 -0.6 0.4 -0.4 0.6 0.4 0.4 1.7 0.8 9 0.2 -0.2 0.6 -5.9 0.2 -0.7 0.2 0.4 0.3 -0.4 0.5 -2.5 0.2 -0.5 0.3 0 0.3 0.6 0.2 1.2 0.8 7.9 0.7 -8.7 0.5 -1.8 0.5 -0.5 0.5 0.2 0.5 1.2 0.7 7.2 0.3 0.7 0.7 -7.6 0.6 -1.4 0.4 -0.3 0.6 0.3 0.4 1.3 1 9.8 0.8 -8.9 0.2 -1.1 0.6 -0.8 0.4 0.1 0.3 0.5 0.5 2.1 0.5 4.5 0.5 10.2 0.2 -1.7 0.8 -12.9 0.5 -2.1 0.5 -0.6 0.5 0.3 0.3 0.5 0.4 2.7 0.8 13.3 1 -14.5 0.5 -2 0.5 -0.5 0.5 0.2 0.3 0.4 0.4 2.2 0.8 12.1 0.2 -0.4 0.8 -12 0.5 -2.1 0.5 -0.6 0.5 0 0.5 0.8 0.5 2.6 0.7 11.4 0.8 -11.1 0.5 -2.9 0.3 -0.6 0.4 -0.5 0.6 0.1 0.2 0.2 0.5 1.3 0.5 4.1 0.5 7.5 0.7 -9.9 0.3 -1.6 0.5 -1.4 0.5 -0.4 0.5 0.1 0.5 0.6 0.3 0.8 0.4 3.7 0.6 7.9 0.2 -0.7 0.5 -8.1 0.5 -3.1 0.2 -0.6 0.6 -0.5 1 0.6 0.4 1 0.3 1.4 0.7 10.3 1 -11 0.3 -0.5 0.5 0.2 0.5 -1.4 0.5 -0.6 0.5 0.3 0.5 1.6 0.8 8.5 1 -9.3 0.4 -1.4 0.8 -0.6 0.5 0 0.5 0.1 0.5 0.7 0.7 4.3 0.3 0.6 0.7 -4.7 0.6 -0.9 0.4 -0.4 1 -0.1 0.8 0.5 0.5 1 0.5 2.8 0.2 0.1 0.6 -2.7 0.2 -0.7 0.5 -0.6 0.5 0 0.2 0.2 0.8 2 0.2 0.1 0.8 -2 0.2 0 0.3 0.2 0.7 1.3 0.3 -0.2 0.5 -1.4 0.8 -0.7 1.7 -0.3 2 0.2 0.5 0.3 0.5 0.7 0.7 3.4 0.3 -0.4 0.7 -3.2 0.8 -0.6 1.2 0 0.8 0.4 0.5 0.9 0.7 4.8 0.3 -0.2 0.5 -3.8 0.5 -1.4 0.7 -0.6 1 0 0.8 0.3 0.5 0.9 1 6.4 0.5 -4.1 0.5 -2.3 0.7 -0.9 1 -0.1 0.6 0.3 0.4 0.6 0.6 1.5 1 11.3 0.7 -10.2 0.5 -2.2 0.5 -0.8 0.7 -0.4 0.8 0.2 0.5 0.5 0.5 1.2 0.5 3.8 0.5 7 0.8 -9.1 0.4 -2.4 0.6 -0.8 0.4 -0.3 0.8 0 0.8 0.4 0.4 1 0.6 2.8 0.4 7.7 0.3 1.4 0.7 -10.1 0.3 -1.3 0.5 -1.2 0.5 -0.4 0.5 -0.1 0.5 0.4 0.7 1.5 0.6 0.3 0.2 1 1 12.5 0.5 -9.2 0.5 -4.3 0.8 -1.8 0.4 -0.3 0.6 -0.1 0.4 0.2 0.6 0.5 0.4 1.3 0.3 1.2 0.5 6 0.5 11.6 0.7 -12.5 0.6 -5.3 0.2 -1.2 0.5 -1.1 0.5 -0.5 0.5 -0.1 0.5 0 0.5 0.4 0.5 1.1 0.2 1.2 1 13.8 0.6 -9.2 0.4 -5 0.8 -2.1 1 -0.6 0.8 0.1 0.4 0.3 0.8 1.7 0.5 4 0.5 7.2 0.8 -9.6 0.4 -2.4 0.6 -0.9 0.7 -0.4 1 0 0.7 0.6 0.6 1.2 0.2 1.2 0.8 10.7 0.2 0.4 0.5 -8.6 0.5 -3.7 0.8 -1.5 1 -0.5 1.2 0.2 0.8 1 0.4 2.5 0.6 6 0.2 -0.2 0.5 -6 0.5 -2.3 0.5 -0.9 0.7 -0.4 1.3 0 0.7 0.5 0.6 0.8 0.4 2.3 0.6 6.3 0.2 1.3 0.5 -6.5 0.5 -3.1 0.8 -1.3 1 -0.4 0.7 0.1 0.7 0.2 0.8 1.2 0.5 2.6 0.5 6.2 0.2 -0.5 0.8 -7.6 0.2 -0.9 0.6 -0.8 1.2 -0.6 1.5 0.3 0.7 0.8 0.6 2.1 0.4 5 0.3 -0.2 0.7 -6.2 0.8 -1.4 1 -0.5 1.5 0 1 0.6 0.5 1.1 0.8 4 0.4 -3.2 0.6 -1.6 0.4 -0.6 0.6 -0.2 0.7 0 0.7 0.3 0.6 0.7 0.7 2.2 0.5 -1.1 0.2 -0.1 0.3 0.6 0.5 3.4 0.2 0.4 0.8 -4.9 0.8 -1.3 1 -0.4 1.7 0 1 0.5 0.5 0.8 0.8 3.2 0.7 -3.4 0.5 -0.7 0.5 -0.3 1 -0.2 2 0.3 0.5 0.4 0.5 1 0.7 4.1 1 -4.6 0.6 -0.7 0.7 -0.4 1.7 -0.1 1.6 0.2 0.7 0.8 0.5 1.6 0.2 -0.1 0.8 -1.9 0.8 -0.4 0.7 0.1 0.5 0.4 0.8 1.7 0.7 0.5 0.5 -1.5 0.5 -0.7 0.5 0 0.2 0.2 0.8 1.4 0.5 -1.3 0.5 -0.6 0.8 -0.3 0.7 0.1 1.5 0.9 0.8 2.5 1 -2.6 0.4 0 0.6 0.9 0.2 -0.1 0.5 -1.1 0.5 -0.4 1.5 -0.1 1 0.6 0.7 2.5 0.3 0.2 0.7 -2.2 0.3 -0.2 0.5 0.4 0.5 1.5 0.7 6.8 0.3 0.1 0.5 -5.8 0.5 -2.5 0.7 -1.1 1.3 -0.4 2.5 0 1 0.7 0.8 -0.6 0.7 -0.2 1.7 0 1.3 0.2 0.5 0.4 0.5 0.9 0.7 3.7 0.6 -0.7 1 -3.5 0.4 -0.6 0.8 -0.2 0.8 0 0.7 0.6 0.7 -0.3 0.6 0.2 0.4 1 0.6 2.1 1 -3 1.7 -0.7 1 0.2 0.5 0.4 0.8 2.5 0.2 0.2 0.8 -2.7 0.7 -0.6 1.3 -0.2 1.2 0.2 0.8 -0.2 1.4 -0.1 4 0.3 0.8 0.3 0.5 0.7 0.7 2.5 0.3 0.2 0.7 -2.7 0.6 -0.5 0.4 0 0.6 0.4 0.4 1.2 0.8 5 0.8 -4 0.4 -0.5 0.6 -1.5 0.7 -0.8 2.5 -0.3 1 0.1 0.8 0.5 0.4 1 0.8 4.5 0.2 0.4 1 -5.1 0.8 -0.9 1 0.1 0.5 0.5 0.5 1.7 0.5 3 0.7 -4.2 0.8 -1.3 0.8 -0.3 1.2 -0.1 1 0.1 0.8 0.4 0.4 0.9 0.8 3.4 0.8 -3.5 0.4 -0.8 0.6 -0.4" fill="none" stroke="#333" stroke-width="1.15" stroke-dasharray="5 3"/>
<path d="M630.5 146.0l0.7 1.4 0.8 5.4 0.2 0.3 0.6 -4 0.4 -1.7 0.3 0 0.3 0.2 0.2 0.8 0.5 3.3 0.3 -0.2 0.4 -2.7 0.6 -1.4 0.7 -1.3 1 -0.3 1 0 0.5 0.4 0.8 0.9 0.4 -0.5 0.3 0 0.5 0.7 0.2 0.8 0.8 6.4 0.2 -0.4 0.6 -4.8 0.4 -1.5 0.3 0 0.3 0.5 0.2 1.1 0.5 4.2 0.3 -0.7 0.4 -4.4 0.3 -1.1 0.5 -0.9 0.8 -0.3 0.7 0.9 0.3 -0.1 0.4 -0.8 0.6 -0.4 0.7 0 0.7 0.1 0.8 0.7 0.5 1.4 0.7 6.8 1 -7.4 0.8 -1.3 1 -0.5 2.8 -0.2 3.4 0.1 0.8 0.3 0.8 1.3 0.2 0.1 0.5 -1.1 0.5 -0.5 1 -0.2 1.8 0.1 1 0.3 1 1.5 0.4 -1 0.6 -0.6 1.2 -0.1 1.2 0.2 0.6 0.4 0.4 0.9 1 6.4 0.8 -5.7 0.2 -0.7 0.6 -0.6 0.4 0.3 0.8 2.3 0.8 -2.5 0.7 -0.8 1 -0.1 1 0.4 0.7 -0.2 0.6 0.5 0.4 1.3 0.3 0.1 0.5 -1.4 0.5 -0.5 1.3 -0.3 1.2 0.3 0.5 0.4 0.5 1.1 0.8 5.5 0.2 -0.2 0.5 -4.3 0.3 -1.1 0.4 -1 0.6 -0.4 0.7 -0.1 1 0.1 0.5 0.2 0.5 0.9 0.7 2.9 0.8 -3.1 0.5 -0.7 1 -0.2 0.7 0.3 0.6 0.8 0.7 2.9 0.7 -2.1 0.8 0.4 0.2 0.4 0.6 3.2 0.4 6.9 0.8 -8.3 0.5 -2.1 0.3 -0.1 0.2 0.4 0.5 2.3 0.3 -0.1 0.4 -1.6 0.6 0.4 0.4 -1.9 0.3 -0.6 0.5 -0.3 0.5 0.4 0.7 2.6 0.3 -0.1 0.7 -2.7 0.6 -0.4 0.4 0.2 0.3 0.3 0.5 1.6 0.2 1.8 0.6 5.6 0.7 -6.9 0.5 -1.8 0.5 -0.6 0.3 0 0.7 1.4 0.3 -0.1 0.4 -1.3 1 -0.9 0.6 0 0.4 0.2 1 1.8 1 -1.9 0.6 -0.1 0.7 0.5 1 -0.7 0.7 0.1 0.8 0.7 1 -0.6 0.8 0.1 1 1.4 0.7 -0.5 0.5 0.9 0.2 1.2 0.6 5 0.2 0.7 1 -6.6 0.5 -1.3 0.5 -0.4 0.5 0.1 0.3 0.3 0.4 1.4 0.3 0.2 0.7 -1.9 0.6 -0.3 0.4 0.2 0.6 0.9 0.4 2.6 0.3 0.1 0.5 -2.5 0.2 -0.7 0.6 -0.5 0.4 -0.1 0.6 0.5 0.7 2 0.7 -2.1 0.6 -0.4 0.7 0.2 0.5 1 0.5 2.5 0.3 -0.2 0.7 -3 0.3 -0.2 0.4 -0.2 0.6 0.4 0.2 0.4 0.8 3.8 0.2 -0.3 0.8 -3.6 0.2 -0.3 0.5 -0.2 0.5 0.3 0.2 0.5 0.8 4.5 0.2 0.6 0.8 -4.7 0.5 -0.8 0.5 -0.1 0.5 0.7 0.3 0.7 0.7 6.5 0.3 -0.5 0.7 -6 0.3 -0.6 0.4 -0.4 0.6 0.4 0.4 1.7 0.8 9 0.2 -0.2 0.6 -5.9 0.2 -0.7 0.2 0.4 0.3 -0.4 0.5 -2.5 0.2 -0.5 0.3 0 0.3 0.6 0.2 1.2 0.8 7.9 0.7 -8.7 0.5 -1.8 0.5 -0.5 0.5 0.2 0.5 1.2 0.7 7.2 0.3 0.7 0.7 -7.6 0.6 -1.4 0.4 -0.3 0.6 0.3 0.4 1.3 1 9.8 0.8 -8.9 0.2 -1.1 0.6 -0.8 0.4 0.1 0.3 0.5 0.5 2.1 0.5 4.5 0.5 10.2 0.2 -1.7 0.8 -12.9 0.5 -2.1 0.5 -0.6 0.5 0.3 0.3 0.5 0.4 2.7 0.8 13.3 1 -14.5 0.5 -2 0.5 -0.5 0.5 0.2 0.3 0.4 0.4 2.2 0.8 12.1 0.2 -0.4 0.8 -12 0.5 -2.1 0.5 -0.6 0.5 0 0.5 0.8 0.5 2.6 0.7 11.4 0.8 -11.1 0.5 -2.9 0.3 -0.6 0.4 -0.5 0.6 0.1 0.2 0.2 0.5 1.3 0.5 4.1 0.5 7.5 0.7 -9.9 0.3 -1.6 0.5 -1.4 0.5 -0.4 0.5 0.1 0.5 0.6 0.3 0.8 0.4 3.7 0.6 7.9 0.2 -0.7 0.5 -8.1 0.5 -3.1 0.2 -0.6 0.6 -0.5 1 0.6 0.4 1 0.3 1.4 0.7 10.3 1 -11 0.3 -0.5 0.5 0.2 0.5 -1.4 0.5 -0.6 0.5 0.3 0.5 1.6 0.8 8.5 1 -9.3 0.4 -1.4 0.8 -0.6 0.5 0 0.5 0.1 0.5 0.7 0.7 4.3 0.3 0.6 0.7 -4.7 0.6 -0.9 0.4 -0.4 1 -0.1 0.8 0.5 0.5 1 0.5 2.8 0.2 0.1 0.6 -2.7 0.2 -0.7 0.5 -0.6 0.5 0 0.2 0.2 0.8 2 0.2 0.1 0.8 -2 0.2 0 0.3 0.2 0.7 1.3 0.3 -0.2 0.5 -1.4 0.8 -0.7 1.7 -0.3 2 0.2 0.5 0.3 0.5 0.7 0.7 3.4 0.3 -0.4 0.7 -3.2 0.8 -0.6 1.2 0 0.8 0.4 0.5 0.9 0.7 4.8 0.3 -0.2 0.5 -3.8 0.5 -1.4 0.7 -0.6 1 0 0.8 0.3 0.5 0.9 1 6.4 0.5 -4.1 0.5 -2.3 0.7 -0.9 1 -0.1 0.6 0.3 0.4 0.6 0.6 1.5 1 11.3 0.7 -10.2 0.5 -2.2 0.5 -0.8 0.7 -0.4 0.8 0.2 0.5 0.5 0.5 1.2 0.5 3.8 0.5 7 0.8 -9.1 0.4 -2.4 0.6 -0.8 0.4 -0.3 0.8 0 0.8 0.4 0.4 1 0.6 2.8 0.4 7.7 0.3 1.4 0.7 -10.1 0.3 -1.3 0.5 -1.2 0.5 -0.4 0.5 -0.1 0.5 0.4 0.7 1.5 0.6 0.3 0.2 1 1 12.5 0.5 -9.2 0.5 -4.3 0.8 -1.8 0.4 -0.3 0.6 -0.1 0.4 0.2 0.6 0.5 0.4 1.3 0.3 1.2 0.5 6 0.5 11.6 0.7 -12.5 0.6 -5.3 0.2 -1.2 0.5 -1.1 0.5 -0.5 0.5 -0.1 0.5 0 0.5 0.4 0.5 1.1 0.2 1.2 1 13.8 0.6 -9.2 0.4 -5 0.8 -2.1 1 -0.6 0.8 0.1 0.4 0.3 0.8 1.7 0.5 4 0.5 7.2 0.8 -9.6 0.4 -2.4 0.6 -0.9 0.7 -0.4 1 0 0.7 0.6 0.6 1.2 0.2 1.2 0.8 10.7 0.2 0.4 0.5 -8.6 0.5 -3.7 0.8 -1.5 1 -0.5 1.2 0.2 0.8 1 0.4 2.5 0.6 6 0.2 -0.2 0.5 -6 0.5 -2.3 0.5 -0.9 0.7 -0.4 1.3 0 0.7 0.5 0.6 0.8 0.4 2.3 0.6 6.3 0.2 1.3 0.5 -6.5 0.5 -3.1 0.8 -1.3 1 -0.4 0.7 0.1 0.7 0.2 0.8 1.2 0.5 2.6 0.5 6.2 0.2 -0.5 0.8 -7.6 0.2 -0.9 0.6 -0.8 1.2 -0.6 1.5 0.3 0.7 0.8 0.6 2.1 0.4 5 0.3 -0.2 0.7 -6.2 0.8 -1.4 1 -0.5 1.5 0 1 0.6 0.5 1.1 0.8 4 0.4 -3.2 0.6 -1.6 0.4 -0.6 0.6 -0.2 0.7 0 0.7 0.3 0.6 0.7 0.7 2.2 0.5 -1.1 0.2 -0.1 0.3 0.6 0.5 3.4 0.2 0.4 0.8 -4.9 0.8 -1.3 1 -0.4 1.7 0 1 0.5 0.5 0.8 0.8 3.2 0.7 -3.4 0.5 -0.7 0.5 -0.3 1 -0.2 2 0.3 0.5 0.4 0.5 1 0.7 4.1 1 -4.6 0.6 -0.7 0.7 -0.4 1.7 -0.1 1.6 0.2 0.7 0.8 0.5 1.6 0.2 -0.1 0.8 -1.9 0.8 -0.4 0.7 0.1 0.5 0.4 0.8 1.7 0.7 0.5 0.5 -1.5 0.5 -0.7 0.5 0 0.2 0.2 0.8 1.4 0.5 -1.3 0.5 -0.6 0.8 -0.3 0.7 0.1 1.5 0.9 0.8 2.5 1 -2.6 0.4 0 0.6 0.9 0.2 -0.1 0.5 -1.1 0.5 -0.4 1.5 -0.1 1 0.6 0.7 2.5 0.3 0.2 0.7 -2.2 0.3 -0.2 0.5 0.4 0.5 1.5 0.7 6.8 0.3 0.1 0.5 -5.8 0.5 -2.5 0.7 -1.1 1.3 -0.4 2.5 0 1 0.7 0.8 -0.6 0.7 -0.2 1.7 0 1.3 0.2 0.5 0.4 0.5 0.9 0.7 3.7 0.6 -0.7 1 -3.5 0.4 -0.6 0.8 -0.2 0.8 0 0.7 0.6 0.7 -0.3 0.6 0.2 0.4 1 0.6 2.1 1 -3 1.7 -0.7 1 0.2 0.5 0.4 0.8 2.5 0.2 0.2 0.8 -2.7 0.7 -0.6 1.3 -0.2 1.2 0.2 0.8 -0.2 1.4 -0.1 4 0.3 0.8 0.3 0.5 0.7 0.7 2.5 0.3 0.2 0.7 -2.7 0.6 -0.5 0.4 0 0.6 0.4 0.4 1.2 0.8 5 0.8 -4 0.4 -0.5 0.6 -1.5 0.7 -0.8 2.5 -0.3 1 0.1 0.8 0.5 0.4 1 0.8 4.5 0.2 0.4 1 -5.1 0.8 -0.9 1 0.1 0.5 0.5 0.5 1.7 0.5 3 0.7 -4.2 0.8 -1.3 0.8 -0.3 1.2 -0.1 1 0.1 0.8 0.4 0.4 0.9 0.8 3.4 0.8 -3.5 0.4 -0.8 0.6 -0.4" fill="none" stroke="#333" stroke-width="1.15" stroke-dasharray="8 4"/>
<path d="M630.5 182.9l0.7 1.4 0.8 5.4 0.2 0.3 0.6 -4 0.4 -1.7 0.3 0 0.3 0.2 0.2 0.8 0.5 3.3 0.3 -0.2 0.4 -2.7 0.6 -1.4 0.7 -1.3 1 -0.3 1 0 0.5 0.4 0.8 0.9 0.4 -0.5 0.3 0 0.5 0.7 0.2 0.8 0.8 6.4 0.2 -0.4 0.6 -4.8 0.4 -1.5 0.3 0 0.3 0.5 0.2 1.1 0.5 4.2 0.3 -0.7 0.4 -4.4 0.3 -1.1 0.5 -0.9 0.8 -0.3 0.7 0.9 0.3 -0.1 0.4 -0.8 0.6 -0.4 0.7 0 0.7 0.1 0.8 0.7 0.5 1.4 0.7 6.8 1 -7.4 0.8 -1.3 1 -0.5 2.8 -0.2 3.4 0.1 0.8 0.3 0.8 1.3 0.2 0.1 0.5 -1.1 0.5 -0.5 1 -0.2 1.8 0.1 1 0.3 1 1.5 0.4 -1 0.6 -0.6 1.2 -0.1 1.2 0.2 0.6 0.4 0.4 0.9 1 6.4 0.8 -5.7 0.2 -0.7 0.6 -0.6 0.4 0.3 0.8 2.3 0.8 -2.5 0.7 -0.8 1 -0.1 1 0.4 0.7 -0.2 0.6 0.5 0.4 1.3 0.3 0.1 0.5 -1.4 0.5 -0.5 1.3 -0.3 1.2 0.3 0.5 0.4 0.5 1.1 0.8 5.5 0.2 -0.2 0.5 -4.3 0.3 -1.1 0.4 -1 0.6 -0.4 0.7 -0.1 1 0.1 0.5 0.2 0.5 0.9 0.7 2.9 0.8 -3.1 0.5 -0.7 1 -0.2 0.7 0.3 0.6 0.8 0.7 2.9 0.7 -2.1 0.8 0.4 0.2 0.4 0.6 3.2 0.4 6.9 0.8 -8.3 0.5 -2.1 0.3 -0.1 0.2 0.4 0.5 2.3 0.3 -0.1 0.4 -1.6 0.6 0.4 0.4 -1.9 0.3 -0.6 0.5 -0.3 0.5 0.4 0.7 2.6 0.3 -0.1 0.7 -2.7 0.6 -0.4 0.4 0.2 0.3 0.3 0.5 1.6 0.2 1.8 0.6 5.6 0.7 -6.9 0.5 -1.8 0.5 -0.6 0.3 0 0.7 1.4 0.3 -0.1 0.4 -1.3 1 -0.9 0.6 0 0.4 0.2 1 1.8 1 -1.9 0.6 -0.1 0.7 0.5 1 -0.7 0.7 0.1 0.8 0.7 1 -0.6 0.8 0.1 1 1.4 0.7 -0.5 0.5 0.9 0.2 1.2 0.6 5 0.2 0.7 1 -6.6 0.5 -1.3 0.5 -0.4 0.5 0.1 0.3 0.3 0.4 1.4 0.3 0.2 0.7 -1.9 0.6 -0.3 0.4 0.2 0.6 0.9 0.4 2.6 0.3 0.1 0.5 -2.5 0.2 -0.7 0.6 -0.5 0.4 -0.1 0.6 0.5 0.7 2 0.7 -2.1 0.6 -0.4 0.7 0.2 0.5 1 0.5 2.5 0.3 -0.2 0.7 -3 0.3 -0.2 0.4 -0.2 0.6 0.4 0.2 0.4 0.8 3.8 0.2 -0.3 0.8 -3.6 0.2 -0.3 0.5 -0.2 0.5 0.3 0.2 0.5 0.8 4.5 0.2 0.6 0.8 -4.7 0.5 -0.8 0.5 -0.1 0.5 0.7 0.3 0.7 0.7 6.5 0.3 -0.5 0.7 -6 0.3 -0.6 0.4 -0.4 0.6 0.4 0.4 1.7 0.8 9 0.2 -0.2 0.6 -5.9 0.2 -0.7 0.2 0.4 0.3 -0.4 0.5 -2.5 0.2 -0.5 0.3 0 0.3 0.6 0.2 1.2 0.8 7.9 0.7 -8.7 0.5 -1.8 0.5 -0.5 0.5 0.2 0.5 1.2 0.7 7.2 0.3 0.7 0.7 -7.6 0.6 -1.4 0.4 -0.3 0.6 0.3 0.4 1.3 1 9.8 0.8 -8.9 0.2 -1.1 0.6 -0.8 0.4 0.1 0.3 0.5 0.5 2.1 0.5 4.5 0.5 10.2 0.2 -1.7 0.8 -12.9 0.5 -2.1 0.5 -0.6 0.5 0.3 0.3 0.5 0.4 2.7 0.8 13.3 1 -14.5 0.5 -2 0.5 -0.5 0.5 0.2 0.3 0.4 0.4 2.2 0.8 12.1 0.2 -0.4 0.8 -12 0.5 -2.1 0.5 -0.6 0.5 0 0.5 0.8 0.5 2.6 0.7 11.4 0.8 -11.1 0.5 -2.9 0.3 -0.6 0.4 -0.5 0.6 0.1 0.2 0.2 0.5 1.3 0.5 4.1 0.5 7.5 0.7 -9.9 0.3 -1.6 0.5 -1.4 0.5 -0.4 0.5 0.1 0.5 0.6 0.3 0.8 0.4 3.7 0.6 7.9 0.2 -0.7 0.5 -8.1 0.5 -3.1 0.2 -0.6 0.6 -0.5 1 0.6 0.4 1 0.3 1.4 0.7 10.3 1 -11 0.3 -0.5 0.5 0.2 0.5 -1.4 0.5 -0.6 0.5 0.3 0.5 1.6 0.8 8.5 1 -9.3 0.4 -1.4 0.8 -0.6 0.5 0 0.5 0.1 0.5 0.7 0.7 4.3 0.3 0.6 0.7 -4.7 0.6 -0.9 0.4 -0.4 1 -0.1 0.8 0.5 0.5 1 0.5 2.8 0.2 0.1 0.6 -2.7 0.2 -0.7 0.5 -0.6 0.5 0 0.2 0.2 0.8 2 0.2 0.1 0.8 -2 0.2 0 0.3 0.2 0.7 1.3 0.3 -0.2 0.5 -1.4 0.8 -0.7 1.7 -0.3 2 0.2 0.5 0.3 0.5 0.7 0.7 3.4 0.3 -0.4 0.7 -3.2 0.8 -0.6 1.2 0 0.8 0.4 0.5 0.9 0.7 4.8 0.3 -0.2 0.5 -3.8 0.5 -1.4 0.7 -0.6 1 0 0.8 0.3 0.5 0.9 1 6.4 0.5 -4.1 0.5 -2.3 0.7 -0.9 1 -0.1 0.6 0.3 0.4 0.6 0.6 1.5 1 11.3 0.7 -10.2 0.5 -2.2 0.5 -0.8 0.7 -0.4 0.8 0.2 0.5 0.5 0.5 1.2 0.5 3.8 0.5 7 0.8 -9.1 0.4 -2.4 0.6 -0.8 0.4 -0.3 0.8 0 0.8 0.4 0.4 1 0.6 2.8 0.4 7.7 0.3 1.4 0.7 -10.1 0.3 -1.3 0.5 -1.2 0.5 -0.4 0.5 -0.1 0.5 0.4 0.7 1.5 0.6 0.3 0.2 1 1 12.5 0.5 -9.2 0.5 -4.3 0.8 -1.8 0.4 -0.3 0.6 -0.1 0.4 0.2 0.6 0.5 0.4 1.3 0.3 1.2 0.5 6 0.5 11.6 0.7 -12.5 0.6 -5.3 0.2 -1.2 0.5 -1.1 0.5 -0.5 0.5 -0.1 0.5 0 0.5 0.4 0.5 1.1 0.2 1.2 1 13.8 0.6 -9.2 0.4 -5 0.8 -2.1 1 -0.6 0.8 0.1 0.4 0.3 0.8 1.7 0.5 4 0.5 7.2 0.8 -9.6 0.4 -2.4 0.6 -0.9 0.7 -0.4 1 0 0.7 0.6 0.6 1.2 0.2 1.2 0.8 10.7 0.2 0.4 0.5 -8.6 0.5 -3.7 0.8 -1.5 1 -0.5 1.2 0.2 0.8 1 0.4 2.5 0.6 6 0.2 -0.2 0.5 -6 0.5 -2.3 0.5 -0.9 0.7 -0.4 1.3 0 0.7 0.5 0.6 0.8 0.4 2.3 0.6 6.3 0.2 1.3 0.5 -6.5 0.5 -3.1 0.8 -1.3 1 -0.4 0.7 0.1 0.7 0.2 0.8 1.2 0.5 2.6 0.5 6.2 0.2 -0.5 0.8 -7.6 0.2 -0.9 0.6 -0.8 1.2 -0.6 1.5 0.3 0.7 0.8 0.6 2.1 0.4 5 0.3 -0.2 0.7 -6.2 0.8 -1.4 1 -0.5 1.5 0 1 0.6 0.5 1.1 0.8 4 0.4 -3.2 0.6 -1.6 0.4 -0.6 0.6 -0.2 0.7 0 0.7 0.3 0.6 0.7 0.7 2.2 0.5 -1.1 0.2 -0.1 0.3 0.6 0.5 3.4 0.2 0.4 0.8 -4.9 0.8 -1.3 1 -0.4 1.7 0 1 0.5 0.5 0.8 0.8 3.2 0.7 -3.4 0.5 -0.7 0.5 -0.3 1 -0.2 2 0.3 0.5 0.4 0.5 1 0.7 4.1 1 -4.6 0.6 -0.7 0.7 -0.4 1.7 -0.1 1.6 0.2 0.7 0.8 0.5 1.6 0.2 -0.1 0.8 -1.9 0.8 -0.4 0.7 0.1 0.5 0.4 0.8 1.7 0.7 0.5 0.5 -1.5 0.5 -0.7 0.5 0 0.2 0.2 0.8 1.4 0.5 -1.3 0.5 -0.6 0.8 -0.3 0.7 0.1 1.5 0.9 0.8 2.5 1 -2.6 0.4 0 0.6 0.9 0.2 -0.1 0.5 -1.1 0.5 -0.4 1.5 -0.1 1 0.6 0.7 2.5 0.3 0.2 0.7 -2.2 0.3 -0.2 0.5 0.4 0.5 1.5 0.7 6.8 0.3 0.1 0.5 -5.8 0.5 -2.5 0.7 -1.1 1.3 -0.4 2.5 0 1 0.7 0.8 -0.6 0.7 -0.2 1.7 0 1.3 0.2 0.5 0.4 0.5 0.9 0.7 3.7 0.6 -0.7 1 -3.5 0.4 -0.6 0.8 -0.2 0.8 0 0.7 0.6 0.7 -0.3 0.6 0.2 0.4 1 0.6 2.1 1 -3 1.7 -0.7 1 0.2 0.5 0.4 0.8 2.5 0.2 0.2 0.8 -2.7 0.7 -0.6 1.3 -0.2 1.2 0.2 0.8 -0.2 1.4 -0.1 4 0.3 0.8 0.3 0.5 0.7 0.7 2.5 0.3 0.2 0.7 -2.7 0.6 -0.5 0.4 0 0.6 0.4 0.4 1.2 0.8 5 0.8 -4 0.4 -0.5 0.6 -1.5 0.7 -0.8 2.5 -0.3 1 0.1 0.8 0.5 0.4 1 0.8 4.5 0.2 0.4 1 -5.1 0.8 -0.9 1 0.1 0.5 0.5 0.5 1.7 0.5 3 0.7 -4.2 0.8 -1.3 0.8 -0.3 1.2 -0.1 1 0.1 0.8 0.4 0.4 0.9 0.8 3.4 0.8 -3.5 0.4 -0.8 0.6 -0.4" fill="none" stroke="#333" stroke-width="1.15" stroke-dasharray="6 3 1.5 3"/>
<path d="M630.5 95.4l0.7 1.4 0.8 5.4 0.2 0.3 0.6 -4 0.4 -1.7 0.3 0 0.3 0.2 0.2 0.8 0.5 3.3 0.3 -0.2 0.4 -2.7 0.6 -1.4 0.7 -1.3 1 -0.3 1 0 0.5 0.4 0.8 0.9 0.4 -0.5 0.3 0 0.5 0.7 0.2 0.8 0.8 6.4 0.2 -0.4 0.6 -4.8 0.4 -1.5 0.3 0 0.3 0.5 0.2 1.1 0.5 4.2 0.3 -0.7 0.4 -4.4 0.3 -1.1 0.5 -0.9 0.8 -0.3 0.7 0.9 0.3 -0.1 0.4 -0.8 0.6 -0.4 0.7 0 0.7 0.1 0.8 0.7 0.5 1.4 0.7 6.8 1 -7.4 0.8 -1.3 1 -0.5 2.8 -0.2 3.4 0.1 0.8 0.3 0.8 1.3 0.2 0.1 0.5 -1.1 0.5 -0.5 1 -0.2 1.8 0.1 1 0.3 1 1.5 0.4 -1 0.6 -0.6 1.2 -0.1 1.2 0.2 0.6 0.4 0.4 0.9 1 6.4 0.8 -5.7 0.2 -0.7 0.6 -0.6 0.4 0.3 0.8 2.3 0.8 -2.5 0.7 -0.8 1 -0.1 1 0.4 0.7 -0.2 0.6 0.5 0.4 1.3 0.3 0.1 0.5 -1.4 0.5 -0.5 1.3 -0.3 1.2 0.3 0.5 0.4 0.5 1.1 0.8 5.5 0.2 -0.2 0.5 -4.3 0.3 -1.1 0.4 -1 0.6 -0.4 0.7 -0.1 1 0.1 0.5 0.2 0.5 0.9 0.7 2.9 0.8 -3.1 0.5 -0.7 1 -0.2 0.7 0.3 0.6 0.8 0.7 2.9 0.7 -2.1 0.8 0.4 0.2 0.4 0.6 3.2 0.4 6.9 0.8 -8.3 0.5 -2.1 0.3 -0.1 0.2 0.4 0.5 2.3 0.3 -0.1 0.4 -1.6 0.6 0.4 0.4 -1.9 0.3 -0.6 0.5 -0.3 0.5 0.4 0.7 2.6 0.3 -0.1 0.7 -2.7 0.6 -0.4 0.4 0.2 0.3 0.3 0.5 1.6 0.2 1.8 0.6 5.6 0.7 -6.9 0.5 -1.8 0.5 -0.6 0.3 0 0.7 1.4 0.3 -0.1 0.4 -1.3 1 -0.9 0.6 0 0.4 0.2 1 1.8 1 -1.9 0.6 -0.1 0.7 0.5 1 -0.7 0.7 0.1 0.8 0.7 1 -0.6 0.8 0.1 1 1.4 0.7 -0.5 0.5 0.9 0.2 1.2 0.6 5 0.2 0.7 1 -6.6 0.5 -1.3 0.5 -0.4 0.5 0.1 0.3 0.3 0.4 1.4 0.3 0.2 0.7 -1.9 0.6 -0.3 0.4 0.2 0.6 0.9 0.4 2.6 0.3 0.1 0.5 -2.5 0.2 -0.7 0.6 -0.5 0.4 -0.1 0.6 0.5 0.7 2 0.7 -2.1 0.6 -0.4 0.7 0.2 0.5 1 0.5 2.5 0.3 -0.2 0.7 -3 0.3 -0.2 0.4 -0.2 0.6 0.4 0.2 0.4 0.8 3.8 0.2 -0.3 0.8 -3.6 0.2 -0.3 0.5 -0.2 0.5 0.3 0.2 0.5 0.8 4.5 0.2 0.6 0.8 -4.7 0.5 -0.8 0.5 -0.1 0.5 0.7 0.3 0.7 0.7 6.5 0.3 -0.5 0.7 -6 0.3 -0.6 0.4 -0.4 0.6 0.4 0.4 1.7 0.8 9 0.2 -0.2 0.6 -5.9 0.2 -0.7 0.2 0.4 0.3 -0.4 0.5 -2.5 0.2 -0.5 0.3 0 0.3 0.6 0.2 1.2 0.8 7.9 0.7 -8.7 0.5 -1.8 0.5 -0.5 0.5 0.2 0.5 1.2 0.7 7.2 0.3 0.7 0.7 -7.6 0.6 -1.4 0.4 -0.3 0.6 0.3 0.4 1.3 1 9.8 0.8 -8.9 0.2 -1.1 0.6 -0.8 0.4 0.1 0.3 0.5 0.5 2.1 0.5 4.5 0.5 10.2 0.2 -1.7 0.8 -12.9 0.5 -2.1 0.5 -0.6 0.5 0.3 0.3 0.5 0.4 2.7 0.8 13.3 1 -14.5 0.5 -2 0.5 -0.5 0.5 0.2 0.3 0.4 0.4 2.2 0.8 12.1 0.2 -0.4 0.8 -12 0.5 -2.1 0.5 -0.6 0.5 0 0.5 0.8 0.5 2.6 0.7 11.4 0.8 -11.1 0.5 -2.9 0.3 -0.6 0.4 -0.5 0.6 0.1 0.2 0.2 0.5 1.3 0.5 4.1 0.5 7.5 0.7 -9.9 0.3 -1.6 0.5 -1.4 0.5 -0.4 0.5 0.1 0.5 0.6 0.3 0.8 0.4 3.7 0.6 7.9 0.2 -0.7 0.5 -8.1 0.5 -3.1 0.2 -0.6 0.6 -0.5 1 0.6 0.4 1 0.3 1.4 0.7 10.3 1 -11 0.3 -0.5 0.5 0.2 0.5 -1.4 0.5 -0.6 0.5 0.3 0.5 1.6 0.8 8.5 1 -9.3 0.4 -1.4 0.8 -0.6 0.5 0 0.5 0.1 0.5 0.7 0.7 4.3 0.3 0.6 0.7 -4.7 0.6 -0.9 0.4 -0.4 1 -0.1 0.8 0.5 0.5 1 0.5 2.8 0.2 0.1 0.6 -2.7 0.2 -0.7 0.5 -0.6 0.5 0 0.2 0.2 0.8 2 0.2 0.1 0.8 -2 0.2 0 0.3 0.2 0.7 1.3 0.3 -0.2 0.5 -1.4 0.8 -0.7 1.7 -0.3 2 0.2 0.5 0.3 0.5 0.7 0.7 3.4 0.3 -0.4 0.7 -3.2 0.8 -0.6 1.2 0 0.8 0.4 0.5 0.9 0.7 4.8 0.3 -0.2 0.5 -3.8 0.5 -1.4 0.7 -0.6 1 0 0.8 0.3 0.5 0.9 1 6.4 0.5 -4.1 0.5 -2.3 0.7 -0.9 1 -0.1 0.6 0.3 0.4 0.6 0.6 1.5 1 11.3 0.7 -10.2 0.5 -2.2 0.5 -0.8 0.7 -0.4 0.8 0.2 0.5 0.5 0.5 1.2 0.5 3.8 0.5 7 0.8 -9.1 0.4 -2.4 0.6 -0.8 0.4 -0.3 0.8 0 0.8 0.4 0.4 1 0.6 2.8 0.4 7.7 0.3 1.4 0.7 -10.1 0.3 -1.3 0.5 -1.2 0.5 -0.4 0.5 -0.1 0.5 0.4 0.7 1.5 0.6 0.3 0.2 1 1 12.5 0.5 -9.2 0.5 -4.3 0.8 -1.8 0.4 -0.3 0.6 -0.1 0.4 0.2 0.6 0.5 0.4 1.3 0.3 1.2 0.5 6 0.5 11.6 0.7 -12.5 0.6 -5.3 0.2 -1.2 0.5 -1.1 0.5 -0.5 0.5 -0.1 0.5 0 0.5 0.4 0.5 1.1 0.2 1.2 1 13.8 0.6 -9.2 0.4 -5 0.8 -2.1 1 -0.6 0.8 0.1 0.4 0.3 0.8 1.7 0.5 4 0.5 7.2 0.8 -9.6 0.4 -2.4 0.6 -0.9 0.7 -0.4 1 0 0.7 0.6 0.6 1.2 0.2 1.2 0.8 10.7 0.2 0.4 0.5 -8.6 0.5 -3.7 0.8 -1.5 1 -0.5 1.2 0.2 0.8 1 0.4 2.5 0.6 6 0.2 -0.2 0.5 -6 0.5 -2.3 0.5 -0.9 0.7 -0.4 1.3 0 0.7 0.5 0.6 0.8 0.4 2.3 0.6 6.3 0.2 1.3 0.5 -6.5 0.5 -3.1 0.8 -1.3 1 -0.4 0.7 0.1 0.7 0.2 0.8 1.2 0.5 2.6 0.5 6.2 0.2 -0.5 0.8 -7.6 0.2 -0.9 0.6 -0.8 1.2 -0.6 1.5 0.3 0.7 0.8 0.6 2.1 0.4 5 0.3 -0.2 0.7 -6.2 0.8 -1.4 1 -0.5 1.5 0 1 0.6 0.5 1.1 0.8 4 0.4 -3.2 0.6 -1.6 0.4 -0.6 0.6 -0.2 0.7 0 0.7 0.3 0.6 0.7 0.7 2.2 0.5 -1.1 0.2 -0.1 0.3 0.6 0.5 3.4 0.2 0.4 0.8 -4.9 0.8 -1.3 1 -0.4 1.7 0 1 0.5 0.5 0.8 0.8 3.2 0.7 -3.4 0.5 -0.7 0.5 -0.3 1 -0.2 2 0.3 0.5 0.4 0.5 1 0.7 4.1 1 -4.6 0.6 -0.7 0.7 -0.4 1.7 -0.1 1.6 0.2 0.7 0.8 0.5 1.6 0.2 -0.1 0.8 -1.9 0.8 -0.4 0.7 0.1 0.5 0.4 0.8 1.7 0.7 0.5 0.5 -1.5 0.5 -0.7 0.5 0 0.2 0.2 0.8 1.4 0.5 -1.3 0.5 -0.6 0.8 -0.3 0.7 0.1 1.5 0.9 0.8 2.5 1 -2.6 0.4 0 0.6 0.9 0.2 -0.1 0.5 -1.1 0.5 -0.4 1.5 -0.1 1 0.6 0.7 2.5 0.3 0.2 0.7 -2.2 0.3 -0.2 0.5 0.4 0.5 1.5 0.7 6.8 0.3 0.1 0.5 -5.8 0.5 -2.5 0.7 -1.1 1.3 -0.4 2.5 0 1 0.7 0.8 -0.6 0.7 -0.2 1.7 0 1.3 0.2 0.5 0.4 0.5 0.9 0.7 3.7 0.6 -0.7 1 -3.5 0.4 -0.6 0.8 -0.2 0.8 0 0.7 0.6 0.7 -0.3 0.6 0.2 0.4 1 0.6 2.1 1 -3 1.7 -0.7 1 0.2 0.5 0.4 0.8 2.5 0.2 0.2 0.8 -2.7 0.7 -0.6 1.3 -0.2 1.2 0.2 0.8 -0.2 1.4 -0.1 4 0.3 0.8 0.3 0.5 0.7 0.7 2.5 0.3 0.2 0.7 -2.7 0.6 -0.5 0.4 0 0.6 0.4 0.4 1.2 0.8 5 0.8 -4 0.4 -0.5 0.6 -1.5 0.7 -0.8 2.5 -0.3 1 0.1 0.8 0.5 0.4 1 0.8 4.5 0.2 0.4 1 -5.1 0.8 -0.9 1 0.1 0.5 0.5 0.5 1.7 0.5 3 0.7 -4.2 0.8 -1.3 0.8 -0.3 1.2 -0.1 1 0.1 0.8 0.4 0.4 0.9 0.8 3.4 0.8 -3.5 0.4 -0.8 0.6 -0.4" fill="none" stroke="#000" stroke-width="1.6"/>
<path d="M366.5 339.2l0.5 -0.8 0.5 -0.1 0.7 0.1 0.6 0.5 0.4 2.3 0.3 2.6 0.5 -1.6 0.5 2.8 0.3 -0.4 0.4 -4.1 0.6 -1.3 0.4 -0.2 0.6 0.7 0.4 4.1 0.3 0.2 0.5 -4.2 0.5 -0.7 0.5 0.2 0.5 1.4 0.5 2.7 0.5 -1.6 0.3 0.4 0.4 4.8 0.6 -3.4 0.2 0.4 0.8 7.9 0.2 0.3 1 -10.1 0.5 -1.1 0.3 0.3 0.4 2.8 0.6 -3.4 0.2 -0.5 0.2 0 0.3 0.2 0.5 1.5 0.5 0.5 0.5 3.4 0.5 6.5 0.3 1 0.2 0.2 0.2 -0.4 0.8 -7.5 0.5 -2.8 0.5 -1.5 0.5 -0.2 0.5 0.7 0.5 1.4 0.7 7.2 0.6 2.8 0.2 0.4 0.2 0 0.3 -0.7 0.5 -4.9 0.2 -1.4 0.3 -0.2 0.5 -3.4 0.5 -1.7 0.3 0 0.2 0.6 0.5 4.1 0.5 -4.4 0.2 -0.7 0.3 -0.1 0.5 0.8 0.5 2.8 0.7 8.4 0.3 0.2 0.7 -7.3 0.3 -0.4 0.3 0.3 0.4 -3.5 0.3 0.4 0.3 0 0.4 -2.7 0.6 -0.6 0.4 0.1 0.6 -0.3 0.4 0.6 0.3 1 0.5 5.6 0.8 -6.1 0.4 -1.3 0.6 -0.2 0.4 0.6 0.8 -0.5 0.5 0.4 0.5 2.7 0.2 3.6 0.3 -0.1 0.3 -3 0.4 -2.6 0.6 -1 0.4 0.1 0.3 0.4 0.3 -0.1 0.2 -0.4 0.5 -0.1 0.5 0.5 0.2 0.7 0.6 4.7 0.2 -0.6 0.5 0.1 0.3 -2.6 0.4 -2.1 0.3 0 0.5 0.8 0.5 -1.2 0.5 0 0.5 0.9 0.3 1.4 0.4 7.1 0.6 -6.1 0.4 -2.3 0.3 -0.1 0.3 0.5 0.4 3.8 0.3 -0.1 0.3 0.7 0.2 3 0.2 -0.7 0.6 -5.4 0.2 -0.4 0.2 0.8 0.6 6.9 0.2 -0.4 0.2 -3.9 0.6 -3.9 0.2 -0.6 0.2 0.1 0.6 2.6 0.4 -2.8 0.3 -0.5 0.3 0 0.4 0.7 0.3 1.2 0.5 6 0.5 3.7 0.7 -9.6 0.3 -0.7 0.3 0.2 0.4 3 0.6 -3.6 0.2 -0.8 0.5 -0.3 0.5 0.4 0.5 2.1 0.7 9.7 0.8 -10 0.2 -0.5 0.3 0.5 0.3 2 0.2 0.4 0.5 -3.8 0.3 -0.5 0.4 -0.1 0.6 0.7 0.4 2.4 0.8 10 0.8 -8.7 0.4 2.6 0.3 0.2 0.7 -6.1 0.3 -0.5 0.5 -0.2 0.5 0.6 0.5 2.3 0.8 10.3 0.2 -1 0.5 -6.8 0.3 -0.2 0.4 6.1 0.3 -1.4 0.5 -7.1 0.2 -1.1 0.3 -0.5 0.3 -0.1 0.4 0.8 0.3 0.9 1 10.8 0.3 0.2 0.2 -0.4 0.8 -4.6 0.2 1.9 0.2 -0.1 0.6 -7 0.4 -2.1 0.6 -0.4 0.4 0.7 0.6 2.4 0.7 9.3 0.3 0.2 0.7 -5.1 0.5 4 0.8 -8.9 0.4 -2 0.6 -0.3 0.4 0.7 0.6 2.3 0.7 9 0.3 0.3 0.2 -0.3 0.2 -1.9 0.3 -0.6 0.5 2.6 0.2 -1.3 0.6 -6.4 0.2 -1.1 0.2 0.2 0.3 1.8 0.3 0.4 0.4 -2.5 0.6 1.9 0.7 7.1 0.5 0.2 0.2 -0.2 0.3 -0.8 0.5 0.8 0.2 -0.8 0.8 -7.7 0.2 -0.8 0.3 -0.3 0.3 0.3 0.2 1.1 0.5 4.6 0.3 0.3 0.2 1 0.2 1.8 0.6 0.7 0.4 0 0.6 -0.7 0.2 0.5 0.2 -0.1 0.8 -7.7 0.5 -2.2 0.5 -0.5 0.5 0.5 0.5 2 0.8 7.2 0.2 0.9 1.5 -0.1 1 -8.8 0.3 -1 0.4 -0.7 0.6 0.2 0.4 1.6 1 8.7 0.3 0.2 0.7 -0.3 0.3 0.2 0.3 -0.2 0.7 -7.5 0.5 -2.2 0.5 -0.6 0.5 0.7 0.2 0.9 1.3 8.6 0.3 0.4 0.4 0 0.8 -0.4 1 -8.7 0.5 -1.4 0.5 -0.2 0.5 0.6 0.5 1.9 0.8 6.4 0.2 1.6 0.2 0.2 1 0 0.3 -0.3 1 -8.2 0.5 -1.5 0.5 -0.2 0.5 0.7 0.5 2 1 7.3 1.3 0.2 0.2 -0.2 0.8 -6.1 0.2 -1.4 0.5 -1.1 0.3 0.3 0.2 1.1 0.5 5 0.5 -3 0.2 -0.4 1 5.7 1.3 0.1 0.3 -0.6 1 -7.7 0.4 -1.5 0.6 -0.3 0.4 0.9 0.3 1 0.5 4.2 0.8 3.6 0.2 0.4 1 0 0.2 -0.6 1.3 -8.4 0.3 -0.9 0.4 -0.7 0.6 0.3 0.4 1.3 0.6 2.5 0.7 6.1 0.3 0.4 1 0 0.2 -0.4 1 -7.9 0.2 -1 0.6 -1 0.2 0 0.2 0.5 0.6 3.6 0.2 0.5 0.2 -1.6 0.3 -0.3 1 7.4 1 0.2 0.3 -0.7 1 -8.9 0.4 -1.6 0.3 -0.4 0.5 -0.2 0.5 0.4 0.3 0.4 0.4 1.9 1 8.8 0.3 0.3 0.5 0 0.2 -0.1 0.3 -0.9 0.5 -5.5 0.5 -3.2 0.3 -0.6 0.2 0.1 0.5 1.6 0.3 -0.2 0.2 -0.3 0.5 -2.7 0.3 -0.2 0.4 0.7 0.3 0.9 1 10.2 0.3 0.2 0.2 -0.1 0.2 -0.5 0.8 -8 0.2 -0.4 0.8 5.5 0.5 -6.8 0.5 -2.3 0.5 -0.5 0.5 0.4 0.5 1.3 0.5 4.1 0.5 6.9 0.3 0.4 0.2 -0.2 0.2 -1.5 0.8 -9.3 0.5 -2 0.5 -0.8 0.5 -0.4 0.5 0.2 0.2 0.4 0.8 -0.4 0.5 0.6 0.3 0.7 0.4 3.5 0.6 8 0.2 0.4 0.2 -1.4 0.6 -7.9 0.2 -1.8 0.5 -1.4 0.3 -0.3 0.4 0 0.8 1.3 0.5 2.7 0.7 8.6 0.3 0.2 1 -10 0.3 -0.9 0.2 -0.1 0.2 0.3 0.6 -1.6 0.2 -0.1 0.2 0.1 0.6 0.9 0.2 1.1 1 11 0.2 0 0.3 -1.9 0.7 -9.3 0.8 -2.3 0.5 -0.4 0.5 -0.2 0.8 0.2 0.4 0.5 0.8 2 0.5 3.7 0.5 6.8 0.2 1 0.3 0 0.3 -0.2 0.7 -7.6 0.5 -3.2 0.5 -1.8 0.5 -0.6 0.5 -0.2 0.5 0.2 0.5 0.6 0.7 2.2 0.6 3.6 0.4 6.1 0.3 0.9 0.3 0 0.2 0 0.2 -0.6 1 -9.7 0.8 -2.2 0.8 -0.4 0.7 0.4 0.7 1.7 0.6 2.5 0.7 7.3 0.3 0.9 0.2 0.1 0.5 0 0.3 -0.4 0.7 -7 0.5 -2.9 0.8 -1.8 0.7 -0.4 0.7 0.7 0.8 2.1 0.5 3.2 0.5 5.2 0.2 1.2 0.3 0.1 0.5 0 0.2 -0.6 1 -8.7 0.6 -1.8 0.4 -0.5 0.6 1.2 0.4 -1.1 0.3 -0.1 0.5 0.7 0.8 3.3 0.7 6.7 0.3 0.8 1 0 1 -7.7 0.4 -2.5 0.8 -1.7 0.8 -0.4 0.7 0.6 0.7 2.1 1 8.8 0.3 0.9 0.3 0 0.4 -0.1 0.3 -1 0.7 -7.3 0.6 -2.4 0.4 -1.1 0.8 -0.5 0.5 0.1 0.5 0.6 0.8 2.1 1 7.8 0.2 1.5 0.2 0.3 0.8 0 0.2 -0.5 1 -7.7 0.3 -0.8 0.5 0.4 0.5 -2.3 0.5 -0.7 0.8 0.5 0.7 2.1 1.3 8.7 0.2 0.3 1 -0.1 0.2 -0.4 1.3 -8.8 0.7 -1.9 0.8 -0.5 0.8 0.5 0.7 2.1 1.3 8.9 0.2 0.2 0.8 0 0.2 -0.3 0.2 -1.4 0.8 -6.4 0.5 -2.2 0.7 -1.6 0.8 -0.4 0.8 0.5 0.7 1.9 1.3 9.5 0.2 0.4 0.8 0 0.2 -0.5 0.8 -6.8 0.4 -2.9 0.8 -2 0.5 -0.6 0.7 -0.3 0.8 0.5 0.8 1.8 0.4 3 0.8 7.6 0.2 0.2 0.6 0 0.2 -0.9 1 -9.5 0.8 -2.3 0.4 -0.6 0.8 -0.3 0.8 0.2 0.4 0.5 0.8 2 0.5 3.4 0.5 6 0.2 1.4 0.3 0.1 0.3 0 0.2 -0.3 0.8 -8 0.4 -2.9 0.8 -1.7 0.2 -0.1 0.6 0.1 0.4 -0.2 0.6 0.6 0.2 0.7 0.8 5.7 0.2 -1.7 0.2 -0.5 0.3 1 0.7 6.8 0.3 0.5 0.7 -0.1 1.3 -9.7 0.3 -0.4 0.2 0.2 0.5 4.7 0.3 0.4 0.4 -5.4 0.6 -2 0.4 -0.7 0.6 0.2 0.2 0.3 0.8 2.7 1 9.7 0.4 0.1 0.3 -0.3 0.7 -8.3 0.6 -3 0.7 -1.8 0.5 -0.5 0.8 -0.2 0.4 0.1 0.6 0.5 0.7 3.3 0.5 1.3 0.2 0.1 0.3 1.2 0.5 6.2 0.2 1.3 0.3 0.1 0.3 -0.2 0.7 -8.9 0.5 -3 0.8 -1.7 0.7 -0.5 0.5 0.4 0.5 1.3 0.3 -0.9 0.2 -0.5 0.2 -0.1 0.6 0.4 0.2 0.5 1 4.7 0.5 6.6 0.3 1.8 0.2 0 0.2 -0.9 0.6 -7.5 0.4 -3.7 0.8 -1.8 1 -0.6 0.8 0.1 0.4 0.6 0.8 4.6 0.2 -0.2 0.6 -2.6 0.2 0 0.2 0.8 1 11.1 0.3 0.1 0.3 -0.8 0.4 -7.7 0.6 -3.7 0.7 -1.9 0.5 -0.4 0.8 -0.3 1 0.1 0.7 0.4 0.7 1.5 1 5.8 0.6 6.6 0.2 0.5 0.2 -0.3 1 -11.4 0.8 -2.2 0.5 -0.5 0.7 -0.3 0.8 0.1 0.8 0.4 0.4 0.6 0.6 1 0.4 2.2 1 9.9 0.3 0.5 0.3 0 0.2 -0.3 0.8 -8.1 0.7 -4.2 0.5 -1.1 0.5 -0.6 0.7 -0.5 0.8 -0.3 1 0.1 0.8 0.3 0.4 0.8 0.3 0.9 1 11.7 0.7 -10.9 0.6 -2 0.7 -0.8 1.3 -0.3 1.4 0.2 1 0.7 0.6 0.9 0.4 1.9 1 11.3 0.3 -0.2 0.7 -7.5 0.3 -0.2 0.3 0.5 0.2 -0.4 0.2 1.2 0.8 -6.1 0.5 -1.2 0.7 -0.4 1 0.1 0.8 0.4 0.5 0.5 0.5 0.9 0.5 2.2 0.7 7.7 0.3 -1.8 0.3 -0.3 0.7 4.7 0.3 0.2 0.4 0 0.3 -0.2 0.7 -5.1 0.3 -0.3 0.3 1.4 0.2 0.2 0.8 -7.1 0.4 -1.4 0.6 -0.4 0.4 0.4 0.6 1.6 0.7 8.1 0.3 1.8 0.2 0 0.2 -1.5 0.6 -7 0.4 -3.2 0.8 -1.7 0.8 -0.6 0.7 -0.3 1.3 -0.2 0.7 0.1 0.7 1.2 0.6 -0.8 0.4 0.3 0.6 2.2 0.4 5.5 0.6 -6.1 0.2 -1.3 0.5 -0.9 1 -0.4 2 -0.1 1.7 0.1 1 0.4 0.6 1.2 0.4 4.8 0.3 -0.8 0.5 -4.1 0.2 -0.5 0.6 -0.2 0.4 0.7 0.3 0.9 0.5 6.1 0.2 1 0.6 -6 0.2 -0.7 0.2 0.6 0.6 4.8 0.7 -6.4 0.7 -0.8 0.6 0.1 0.4 0.8 0.6 1.9 0.7 9.4 0.3 -1.2 0.7 -9 0.3 -1 0.4 -1 0.8 -0.6 0.8 0 0.4 0.1 0.6 0.5 0.4 2.4 0.3 2.6 0.5 -3 0.2 -0.7 0.3 0.1 0.5 2.3 0.5 5.7 0.3 -0.4 0.4 -4.6" fill="none" stroke="#333" stroke-width="1.15" stroke-dasharray="2.5 3.5"/>
<path d="M366.5 350.4l0.5 -0.9 0.5 -0.2 0.7 0.2 0.6 0.6 0.4 2.5 0.3 2.7 0.5 -1.6 0.5 3 0.3 -0.5 0.4 -4.3 0.6 -1.5 0.4 -0.2 0.6 0.7 0.4 4.4 0.3 0.3 0.5 -4.6 0.5 -0.7 0.5 0.3 0.5 1.4 0.5 2.8 0.5 -1.4 0.3 0.4 0.4 5.5 0.6 -3.7 0.2 0.5 0.8 11.5 0.2 0.5 0.5 -9.2 0.5 -5.1 0.5 -1.3 0.3 0.3 0.4 2.9 0.6 -3.6 0.2 -0.5 0.2 -0.1 0.3 0.3 0.5 1.6 0.5 0.8 0.3 1.5 0.7 13 0.3 2.7 0.2 0.5 0.2 -1.2 0.8 -12.6 0.8 -4.6 0.2 -0.6 0.5 -0.3 0.7 1.5 0.6 3 0.7 11.2 0.5 4.2 0.2 -0.1 0.3 -2.1 0.7 -10.8 0.3 -0.5 0.5 -4.2 0.5 -1.9 0.3 -0.1 0.2 0.8 0.5 4.5 0.5 -4.9 0.2 -0.8 0.3 -0.1 0.5 1 0.5 3.4 0.7 13.1 0.3 0.3 0.7 -11.8 0.3 -0.6 0.3 0.1 0.4 -4 0.3 0.3 0.3 -0.1 0.2 -1.8 0.5 -1.6 0.3 -0.2 0.4 0.1 0.6 -0.3 0.2 0.2 0.5 1.6 0.5 6.2 0.8 -6.8 0.4 -1.4 0.6 -0.3 0.4 0.6 0.8 -0.5 0.5 0.5 0.5 3 0.2 3.9 0.3 0 0.3 -3.3 0.4 -3 0.6 -1.1 0.4 0.1 0.3 0.4 0.3 -0.1 0.2 -0.4 0.5 -0.1 0.5 0.6 0.2 0.8 0.6 5 0.2 -0.4 0.2 0.1 0.3 -0.2 0.3 -2.8 0.4 -2.3 0.3 0 0.5 0.7 0.5 -1.2 0.5 0.1 0.5 1 0.3 1.6 0.4 8.3 0.6 -7.2 0.4 -2.6 0.3 -0.1 0.3 0.5 0.4 4.1 0.3 0.2 0.3 0.9 0.2 3.6 0.2 -0.9 0.6 -6.3 0.2 -0.4 0.2 0.9 0.3 3 0.3 5.4 0.2 -0.5 0.2 -5 0.6 -4.5 0.2 -0.7 0.2 0.1 0.6 2.6 0.4 -2.8 0.3 -0.5 0.3 -0.1 0.4 0.9 0.3 1.3 1 12.9 0.7 -12.7 0.3 -0.9 0.3 0.2 0.4 3.2 0.8 -4.7 0.2 -0.4 0.6 0.1 0.4 1.2 0.3 1.6 0.7 13 0.6 -11.1 0.2 -2.2 0.2 -0.7 0.3 0.6 0.3 2.1 0.2 0.4 0.5 -4.1 0.3 -0.6 0.4 -0.1 0.6 0.8 0.4 2.9 0.8 14.6 0.5 -11 0.3 -2.1 0.4 2.9 0.3 0.2 0.7 -7 0.3 -0.6 0.5 -0.2 0.5 0.8 0.5 2.6 0.8 15.7 0.2 -2.1 0.5 -10.3 0.3 -0.3 0.4 8.3 0.8 -11.3 0.2 -1.4 0.3 -0.6 0.3 -0.1 0.4 0.9 0.6 3.3 0.7 15.3 0.3 0.7 1 -10.1 0.2 2.6 0.2 -0.2 0.3 -5.8 0.5 -5.4 0.2 -0.8 0.3 -0.4 0.3 0 0.4 0.7 0.6 3 0.7 15.3 0.3 0.9 0.7 -10.1 0.5 6.5 0.8 -13.2 0.4 -2.4 0.3 -0.4 0.3 0 0.4 0.8 0.6 2.9 0.7 14.8 0.3 1.3 0.7 -6.6 0.5 5.5 0.8 -13.2 0.2 -1.4 0.2 0.2 0.3 2 0.3 0.5 0.2 -2.1 0.2 -0.7 0.6 2.5 0.7 12.8 0.3 0.7 0.2 0 0.2 -0.7 0.3 -2.2 0.5 2 0.8 -12.2 0.2 -2.3 0.2 -1.1 0.3 -0.3 0.3 0.4 0.2 1.3 0.5 6.4 0.5 2.6 0.5 5.2 0.3 0.8 0.4 0.1 0.6 -2.1 0.2 1.1 0.2 -0.3 0.8 -13.2 0.5 -2.8 0.5 -0.7 0.5 0.8 0.5 2.6 0.8 11.7 0.2 2.7 0.2 0.2 0.3 0 0.5 -0.7 0.2 0.6 0.3 -0.6 0.7 -13 0.6 -3.3 0.4 -1 0.3 0 0.3 0.4 0.4 2 0.6 5.5 0.4 9.3 0.3 0.8 0.3 0 0.4 -1 0.3 0.6 0.3 -0.8 0.7 -13 0.5 -2.9 0.5 -0.6 0.5 0.8 0.5 3.2 1 12.4 0.3 1.3 0.4 0 0.6 -0.8 0.2 -0.8 0.8 -12.5 0.4 -2.9 0.3 -0.7 0.5 -0.2 0.5 0.8 0.5 2.4 1 13.9 0.2 0.8 1 -0.1 0.3 -1 0.7 -12.1 0.6 -3.1 0.4 -1 0.3 0 0.3 0.3 0.2 0.6 0.5 2.6 1 13.2 0.3 0.6 1 -0.1 0.2 -0.7 0.8 -11.2 0.2 -1.9 0.5 -1.5 0.3 0.3 0.2 1.5 0.5 7.2 0.5 -4.4 0.2 -0.4 1 11 0.3 0.2 1 -0.1 0.3 -1.6 0.7 -11.3 0.5 -3 0.2 -0.7 0.3 -0.4 0.3 0 0.4 1 0.3 1.4 1.3 13.4 0.2 1.3 1 -0.1 0.8 -9.4 0.7 -6.2 0.3 -1.2 0.4 -0.8 0.6 0.3 0.2 0.6 0.5 2.4 1 13.3 0.3 1.1 1 0 0.2 -1.2 0.8 -11.5 0.4 -3.5 0.6 -1.3 0.2 0 0.2 0.6 0.6 4.4 0.2 0.7 0.2 -1.9 0.3 -0.2 0.5 4.7 0.5 8.5 0.3 0.7 0.4 0 0.3 -0.1 0.3 -2.1 0.4 -9.5 0.6 -4.8 0.4 -2 0.3 -0.5 0.5 -0.3 0.5 0.5 0.3 0.6 0.4 2.4 1 14.8 0.3 1 0.5 0 0.2 -0.3 0.3 -2.6 0.5 -9.4 0.5 -4.4 0.3 -0.8 0.2 0.1 0.5 1.8 0.3 -0.3 0.2 -0.4 0.5 -3 0.3 -0.3 0.4 0.9 0.6 3.3 0.7 14.6 0.3 0.7 0.2 -0.3 0.2 -1.8 0.8 -13.1 0.2 -0.5 0.3 1.6 0.3 4.2 0.2 1.3 0.5 -8.8 0.5 -2.8 0.5 -0.5 0.5 0.4 0.2 0.6 0.6 2.9 0.7 15.3 0.3 1.4 0.2 -0.7 1 -17.5 0.5 -2.4 0.5 -0.9 0.5 -0.4 0.5 0.2 0.2 0.4 0.8 -0.4 0.5 0.7 0.3 0.8 0.4 4.2 0.6 12.3 0.2 1 0.8 -14.4 0.4 -3.2 0.6 -0.9 0.4 0 0.6 0.7 0.4 2 0.6 5.5 0.4 9.6 0.3 0.4 1 -14.9 0.3 -1.1 0.2 -0.2 0.2 0.2 0.6 -1.6 0.2 -0.2 0.5 0.5 0.5 2.1 0.2 2.4 0.8 15.5 0.2 -0.1 0.8 -15.7 0.5 -3.8 0.5 -1.3 0.5 -0.5 0.7 -0.2 0.8 0.5 0.8 1.5 0.4 2.9 0.8 14.2 0.2 2.8 0.3 0.2 0.3 -0.8 0.7 -13.5 0.5 -4.1 0.5 -2.1 0.5 -0.7 0.5 -0.2 0.5 0.2 0.5 0.7 0.7 2.6 0.6 4.8 0.4 10.4 0.3 2.6 0.3 0.1 0.2 0 0.2 -1.8 0.6 -10.5 0.4 -5.2 0.6 -2.1 0.4 -0.8 0.6 -0.2 0.4 0.2 0.6 0.7 0.7 2.9 0.5 4.9 0.5 9.1 0.3 2.6 0.2 0.2 0.5 0 0.3 -1.3 1 -14.6 0.7 -3.3 0.7 -0.9 0.6 0.1 0.4 0.7 0.8 2.7 0.5 4.2 0.7 12.1 0.3 0.3 0.5 0 0.2 -1.7 0.8 -12.3 0.5 -3.5 0.5 -1.4 0.2 -0.1 0.6 1.1 0.4 -1 0.3 -0.1 0.5 0.9 0.2 0.9 0.6 3.4 1 13.6 0.2 0.2 0.5 0 0.3 -0.3 0.7 -11.1 0.5 -4.7 0.8 -3 0.4 -0.7 0.6 -0.2 0.7 0.7 0.7 2.7 0.6 4.9 0.4 9.2 0.3 2.4 0.3 0.1 0.4 -0.2 0.8 -11.9 0.5 -4.7 0.7 -2.6 0.8 -0.6 0.5 0.1 0.5 0.7 0.8 2.7 0.4 4.2 0.8 11.5 0.2 0.8 0.3 0 0.5 0 0.2 -1.5 1 -13.2 0.3 -1.1 0.3 0 0.2 0.3 0.5 -2.8 0.5 -0.7 0.2 0 0.6 0.6 0.7 2.7 0.5 4.1 0.8 10.6 0.2 1 0.2 0 0.8 -0.1 0.2 -1.5 0.8 -10.8 0.5 -3.8 0.7 -2.4 0.8 -0.6 0.8 0.6 0.7 2.7 0.5 4.2 0.8 11 0.2 0.7 0.2 0 0.6 0 0.2 -0.9 0.8 -11.1 0.4 -4.2 0.8 -2.8 0.5 -0.7 0.5 -0.2 0.8 0.6 0.7 2.4 0.5 3.9 0.8 11.8 0.2 1.2 0.8 0 0.2 -1.5 1 -14.2 0.8 -3.5 0.4 -1 0.8 -0.6 0.5 0.1 0.5 0.5 0.8 2.1 0.4 4 0.8 13.3 0.2 0.8 0.3 0 0.3 -0.1 0.2 -2.6 0.5 -9.9 0.5 -5 0.8 -2.8 0.4 -0.7 0.8 -0.4 0.8 0.3 0.4 0.6 0.8 2.4 0.5 4.4 0.7 13.5 0.3 0.3 0.3 0 0.2 -1.1 0.5 -10.2 0.5 -5.9 0.5 -2.4 0.3 -0.6 0.4 -0.5 0.6 0.1 0.4 -0.2 0.6 0.6 0.4 2.5 0.6 5.1 0.2 -1.7 0.2 -0.5 0.6 4.3 0.4 9.1 0.3 1.4 0.3 0 0.2 0 0.2 -0.5 0.8 -12.3 0.5 -3.9 0.3 -0.7 0.2 0.3 0.5 5.8 0.3 0.4 0.4 -6.7 0.6 -2.3 0.4 -0.8 0.6 0.2 0.2 0.4 0.8 3.2 1 16.4 0.2 0.5 0.2 0 0.3 -1 0.5 -10.5 0.5 -6.1 0.7 -3.1 0.6 -0.8 0.7 -0.5 0.7 0.1 0.6 0.6 0.7 3.6 0.7 2.1 0.3 1.6 0.7 13.7 0.3 0.3 0.3 -0.8 0.4 -11.2 0.6 -6.3 0.7 -3 0.5 -0.7 0.5 -0.2 0.5 0.4 0.5 1.2 0.5 -1.3 0.5 0 0.5 0.9 0.2 1.2 0.8 4.6 0.8 14.7 0.2 0.3 1 -17.9 0.2 -1.7 0.6 -1.7 0.4 -0.7 0.8 -0.4 0.8 0.1 0.4 0.7 0.8 5 0.2 -0.1 0.6 -2.8 0.2 0.1 0.2 0.9 0.6 5.9 0.4 11.9 0.3 0.6 1 -18 0.3 -1.7 0.4 -1.7 0.8 -0.9 0.8 -0.3 1 0.1 0.7 0.4 0.7 1.8 1 7.3 0.6 11.5 0.2 1.6 0.2 -0.9 0.6 -12.1 0.4 -6 0.8 -2.6 0.5 -0.6 0.5 -0.2 1 0 1 0.7 0.5 1 0.5 1.8 0.5 3.9 0.7 13.5 0.3 1.6 0.3 0 0.2 -1 0.8 -13.9 0.4 -4.2 0.6 -1.8 0.4 -1 0.8 -0.7 0.8 -0.4 1 0 0.7 0.2 0.5 0.6 0.5 1.5 0.3 2 0.7 14.4 0.5 -12.3 0.2 -3.1 0.6 -2.3 0.7 -1 1.5 -0.3 1.5 0.4 1 1.1 0.5 1.4 0.5 3.9 0.7 15.3 0.3 -0.8 0.7 -12.6 0.3 -0.3 0.3 0.5 0.2 -0.4 0.2 1.2 0.8 -7.1 0.5 -1.3 0.7 -0.5 1 0.1 1 0.7 0.6 0.8 0.4 1.7 1 12.1 0.3 -2.5 0.3 -0.4 0.7 9.2 0.3 0.9 0.2 0 0.2 0 0.3 -0.9 0.7 -9.7 0.3 -0.6 0.3 1.8 0.2 0.1 0.8 -9.2 0.2 -1.1 0.5 -0.9 0.5 0 0.2 0.4 0.6 1.9 1 14.7 0.2 0 1 -15.5 0.8 -2.9 0.4 -0.7 0.8 -0.6 2 -0.4 0.8 0.4 0.4 0.8 0.6 -0.7 0.4 0.4 0.6 2.4 0.4 6.2 0.6 -6.9 0.2 -1.4 0.5 -1 1 -0.5 2 -0.1 1.7 0.1 1 0.5 0.6 1.3 0.4 5.1 0.3 -0.8 0.5 -4.4 0.2 -0.6 0.6 -0.1 0.4 0.7 0.3 1.1 0.5 6.9 0.2 1.2 0.6 -6.9 0.2 -0.7 0.2 0.6 0.6 5.2 0.7 -7 0.3 -0.5 0.4 -0.4 0.6 0.1 0.4 0.9 0.6 2.2 0.7 12.5 0.7 -11.3 0.6 -3.3 0.4 -1.2 0.8 -0.5 0.8 -0.1 0.4 0.1 0.6 0.6 0.2 0.8 0.5 4.5 0.5 -3.1 0.2 -0.8 0.3 0.1 0.5 2.6 0.5 6.8 0.3 -0.4 0.4 -5.5" fill="none" stroke="#333" stroke-width="1.15" stroke-dasharray="5 3"/>
<path d="M366.5 411.8l0.3 -0.4 0.4 -0.2 0.8 0 0.5 0.2 0.5 0.7 0.5 2 0.3 0 0.2 -0.3 0.5 0.9 0.3 -0.3 0.4 -1.7 0.6 -0.8 0.4 -0.2 0.3 0.1 0.5 1.1 0.2 1.2 0.3 0.1 0.5 -1.9 0.5 -0.5 0.5 0.2 1 1.9 0.5 -0.1 0.3 0.4 0.4 2.5 0.6 -1.2 0.2 0.5 0.8 7.2 0.2 0.4 0.5 -6 0.5 -3.3 0.5 -0.9 0.3 0.1 0.4 1 0.6 -1.4 0.2 -0.3 0.5 0.1 1 1.9 0.3 1.1 0.4 5.7 0.6 10.5 0.2 1.3 1 -15.8 0.8 -3.4 0.4 -0.6 0.6 0.2 0.7 1.8 0.5 4 1 19.2 0.2 -1.1 0.8 -16.9 1 -5.7 0.5 -1.3 0.3 -0.1 0.2 0.4 0.5 1.8 0.7 -2.5 0.3 -0.1 0.3 0.3 0.2 0.4 0.5 2.4 0.7 10.2 0.3 0.5 0.7 -9.5 1 -3.4 0.6 -0.5 0.4 -1.3 0.6 -0.5 1 -0.2 0.4 0.5 0.8 3.3 0.8 -3 0.2 -0.6 0.5 -0.4 0.7 0.1 0.8 -0.2 0.5 0.4 0.3 0.5 0.4 2.7 0.3 0.1 0.5 -2.3 0.2 -0.7 0.6 -0.6 0.7 0.1 0.7 -0.3 0.6 0.2 0.4 0.8 0.6 2.2 0.2 0.1 0.5 -0.3 0.5 -2 0.2 -0.4 0.8 0.1 0.8 -0.4 0.4 0.3 0.3 0.5 0.7 4.7 0.8 -4.2 0.2 -0.4 0.3 -0.1 0.3 0.3 0.4 1.9 0.6 1.1 0.2 1.4 0.2 -0.4 0.6 -2.9 0.2 -0.2 0.2 0.5 0.6 4.2 0.2 -0.2 0.8 -5 0.2 -0.5 0.2 0 0.6 0.9 0.4 -1.1 0.6 -0.3 0.4 0.7 0.3 0.8 1 7.5 0.7 -7.3 0.3 -0.6 0.3 0 0.4 1.1 0.8 -2.1 0.5 -0.2 0.5 0.4 0.5 1.6 0.7 7.5 0.8 -7.7 0.2 -0.5 0.3 0.2 0.3 0.8 0.2 0 0.5 -1.8 0.3 -0.3 0.4 0 0.6 0.5 0.4 2 0.8 10.1 0.5 -7.5 0.3 -1.4 0.2 0.1 0.2 0.7 0.3 0 0.7 -3.6 0.3 -0.4 0.5 -0.2 0.5 0.6 0.5 1.9 0.8 12.6 0.7 -10 0.3 -0.3 0.4 4.4 0.8 -6.7 0.2 -1 0.3 -0.4 0.3 0 0.4 0.7 0.3 0.9 0.5 4.7 0.8 23.1 0.7 -20.1 0.3 -1.4 0.2 0.9 0.2 -0.8 0.8 -7.1 0.5 -0.9 0.5 0.2 0.5 1.2 0.3 1.5 0.4 8.2 0.6 13.7 0.4 -14.5 0.3 -2.1 0.5 3.9 0.8 -9.7 0.4 -1.8 0.6 -0.3 0.4 0.6 0.3 0.9 0.5 4.1 0.8 22 0.4 -13.7 0.3 -1.6 0.5 6.5 0.8 -14.4 0.2 -1.2 0.2 0 0.3 0.7 0.3 0.2 0.2 -0.7 0.2 -0.2 0.3 0.7 0.5 5 0.2 6.6 0.6 28.5 0.2 -0.7 0.5 -23 0.3 -0.5 0.2 2.1 0.8 -16.2 0.2 -1.9 0.2 -0.9 0.3 -0.2 0.3 0.3 0.2 1 1 9.2 0.5 13.6 0.5 22.8 0.8 -27 0.2 1.1 0.2 -2.6 0.8 -16.5 0.5 -2.4 0.5 -0.5 0.5 0.6 0.5 2.3 0.5 6.9 0.7 38.8 0.6 -17.7 0.2 -3.1 0.2 3 0.8 -23.7 0.5 -5.2 0.5 -1.7 0.2 -0.2 0.3 0 0.5 0.9 0.5 3 0.5 9.8 0.5 28.7 0.3 1.5 0.2 -12.5 0.2 -5.7 0.3 0.7 0.7 -20.2 0.6 -4.6 0.2 -0.9 0.5 -0.5 0.5 0.7 0.5 2.6 0.7 11.2 0.8 41.5 0.5 -23.6 1 -26.4 0.5 -4.5 0.5 -1.4 0.5 -0.3 0.5 0.7 0.5 2.1 0.5 5.9 1 49.5 1.5 -50.8 0.5 -4.9 0.5 -1.6 0.5 -0.3 0.5 0.8 0.5 2.4 0.5 6.5 1 52.6 1.5 -54 0.5 -5.3 0.5 -1.4 0.3 0.2 0.2 1.1 0.5 4.7 0.5 -2.1 0.2 0.1 0.6 6 0.7 41.9 0.3 3.4 0.2 -5.1 0.2 -1.7 0.6 -28 0.4 -15.2 0.6 -4.7 0.4 -1.7 0.6 -0.4 0.2 0.3 0.5 1.8 0.7 7.4 0.3 4.9 0.7 43.6 0.3 -2.9 0.7 -34.1 0.6 -13.8 0.4 -4.6 0.6 -2.4 0.2 -0.5 0.5 -0.2 0.5 0.8 0.2 0.8 0.6 3.4 0.4 9.8 0.8 45.5 0.2 -0.9 0.3 -5.5 0.5 -28.6 0.5 -17.2 0.5 -5.5 0.2 -1.2 0.6 -1.2 0.2 0 0.2 0.3 0.8 2.9 0.2 -0.4 0.3 0.3 0.5 5 0.8 36.4 0.2 4.6 0.2 -4.1 0.6 -25.4 0.4 -14.4 0.6 -4.4 0.7 -2.1 0.5 -0.2 0.5 0.4 0.7 2.5 0.6 5.6 0.2 6.3 0.8 41.3 1 -45.4 0.4 -7.1 0.6 -2.2 0.2 -0.2 0.5 0.6 0.3 -0.2 0.7 -1.8 0.3 -0.1 0.4 0.7 0.6 2.7 0.4 9.5 0.6 18.8 1 -26.1 0.2 -2.1 0.2 -0.6 0.6 2.8 0.2 0.4 0.5 -4.9 0.5 -1.8 0.5 -0.4 0.5 0.3 0.5 1.3 0.3 1.5 0.4 8 0.6 17.5 1 -24.8 0.4 -3 0.6 -1.2 0.7 -0.6 1.5 0.2 0.5 0.5 0.3 0.6 0.4 3 0.6 9.5 0.2 1.8 0.8 -12.1 0.4 -2.3 0.6 -0.6 0.4 0 0.6 0.5 0.4 1.4 0.6 3.7 0.4 7.4 0.3 0.5 0.5 -7.2 0.5 -4 0.3 -0.8 1 -1.1 0.4 0 0.3 0.3 0.5 1.6 0.5 5.4 0.5 17 0.2 -0.5 0.6 -16.9 0.4 -5.3 0.6 -1.6 0.4 -0.7 1 -0.2 1 0.6 0.8 1.8 0.5 3.8 1 31.6 0.5 -22.1 0.5 -9.7 0.5 -3.4 0.5 -1.4 0.7 -0.7 0.6 0 0.4 0.4 0.8 1.4 0.5 2.5 0.5 7.3 0.8 36.4 1 -40.3 0.2 -2.9 0.5 -2.7 0.7 -1.3 0.6 -0.2 0.4 0.2 0.8 1.1 0.5 1.9 0.5 4.5 0.2 4.9 0.8 46 0.2 3.9 0.8 -46.9 0.2 -6.1 0.6 -5.6 0.4 -2.2 0.6 -0.9 0.7 -0.4 0.5 0.3 0.5 0.9 0.5 1.6 0.5 4 0.5 12.7 0.5 35.6 0.3 4.1 0.4 -34.7 0.6 -16.1 0.4 -5.1 0.6 -1.9 0.4 -0.6 0.6 0.4 0.7 -0.3 0.5 0.7 0.5 2 0.5 4.8 0.2 5.1 0.8 47.1 0.2 6 1 -54 0.6 -7.5 0.4 -2.9 0.6 -1.3 0.4 -0.6 0.8 -0.1 0.5 0.5 0.7 2.2 0.6 4.6 0.4 14.4 0.6 35.6 0.2 -1.2 0.5 -35.7 0.5 -13.5 0.5 -4.3 0.5 -1.7 0.5 -0.8 0.5 -0.2 0.8 0.3 0.4 0.9 0.6 1.7 0.4 4 0.6 10.9 0.7 48 0.3 -1.8 0.4 -37.5 0.6 -16.7 0.2 -3.3 0.5 -3 0.5 -0.7 0.5 -1.5 0.3 -0.3 0.4 -0.2 0.8 1 0.5 1.9 0.7 8 0.6 18.7 0.4 36.5 0.3 1.7 0.3 -6.4 0.4 -36.4 0.6 -15.6 0.7 -7 0.5 -1.6 0.8 -0.9 0.4 0 0.6 0.5 0.7 2.3 0.5 4.1 0.2 4.1 0.6 20.4 0.4 34.9 0.3 -0.4 0.5 -35.8 0.5 -19.6 0.3 -4 0.4 -4 0.8 -2.3 0.8 -0.7 0.4 0 0.6 0.4 0.7 2 0.5 3.6 0.2 3.6 0.6 18.1 0.4 36.5 0.3 -0.8 0.5 -37.4 0.5 -17 0.3 -3.5 0.4 -3.5 0.8 -2 0.8 -0.7 0.7 -0.1 0.7 0.8 0.6 1.4 0.4 3.3 0.6 10.4 0.4 32.2 0.3 6.1 0.7 -42.3 0.6 -7.7 0.4 -2.7 0.6 -1.2 0.4 -0.6 0.8 -0.3 0.8 0.2 0.4 0.5 0.6 1 0.4 2.3 0.6 6.6 0.2 8 0.5 31.2 0.3 -4.4 0.4 -30.3 0.3 -6.3 0.5 -5.3 0.8 -2.5 0.4 -0.4 1 -0.1 0.6 0.5 0.2 0.6 0.8 3.8 0.2 -0.2 0.2 0.2 0.6 4.5 0.2 5.7 0.8 45.4 0.2 -6.7 0.5 -35.1 0.5 -11.7 0.2 -2.3 0.6 -1.9 0.2 0.1 0.5 2.6 0.3 0.1 0.4 -3.5 0.8 -1.9 0.2 -0.1 0.6 0.2 0.7 1.6 0.5 3.5 0.2 3.9 0.8 38 0.2 -3.1 0.8 -36.2 0.2 -3.4 0.6 -3.2 0.4 -1.3 0.6 -0.6 0.4 -0.3 1 0 0.8 0.8 1.2 3.8 0.3 1.7 0.5 11.7 0.5 20.7 0.7 -30.6 0.6 -5.3 0.4 -1.8 0.8 -1.1 0.8 -0.1 0.7 0.6 0.7 -0.5 0.6 0.3 0.4 1.2 0.6 2.2 0.4 4.7 0.6 18 0.2 2.8 0.5 -19.4 0.5 -6.8 0.5 -2.1 0.5 -0.8 0.5 -0.4 0.7 -0.2 0.6 0.1 0.4 0.5 0.3 0.6 0.5 1.8 0.2 0.1 0.6 -1 0.2 0.2 0.2 0.7 0.6 4.7 0.7 20.5 0.5 -18.1 0.5 -6.8 0.5 -2 0.8 -1.1 0.7 -0.3 0.7 -0.1 0.8 0.1 0.8 0.6 0.7 1.9 0.7 4.9 0.8 23 0.8 -22.9 0.4 -4.8 0.6 -1.5 0.4 -0.7 0.6 -0.3 0.7 -0.1 0.7 0.1 1 0.8 0.6 1 0.4 2 0.6 4.9 0.7 23.7 0.3 2.2 0.7 -25.4 0.5 -5.4 0.5 -2.1 0.5 -1 1 -0.8 1.2 -0.4 1.3 0.2 0.7 0.8 0.6 2.1 0.7 9.5 0.5 -8.1 0.2 -2.1 0.6 -1.6 0.7 -0.7 1.5 -0.2 1.5 0.2 1 0.8 0.5 1.1 0.5 2.9 0.7 15.5 1 -14.2 0.3 -0.6 0.5 -0.3 0.2 0.1 0.8 -3.7 0.5 -0.9 0.5 -0.3 0.8 -0.1 1.2 0.5 0.8 0.8 0.4 1.2 1 8.6 0.3 -0.8 0.3 0.5 0.2 2.7 1 31.8 1 -32 0.2 -3 0.3 -1.1 0.3 0.3 0.2 -0.5 0.5 -4.4 0.3 -1.4 0.4 -1.3 0.3 -0.2 0.5 0 0.5 0.7 0.3 0.8 0.4 4 0.6 7 0.2 0.3 1 -11.9 0.8 -2.1 0.4 -0.5 0.8 -0.4 2 -0.3 1.2 0.5 0.8 -0.1 0.5 0.7 0.7 3.5 0.8 -3.8 0.8 -0.8 2.7 -0.3 2.5 0.3 0.5 0.4 0.3 0.5 0.4 2.2 0.3 -0.3 0.5 -1.9 0.2 -0.3 0.6 -0.1 0.4 0.5 0.3 0.7 0.5 3.2 0.2 0.5 0.6 -2.9 0.2 -0.5 0.2 0.3 0.6 2 0.7 -3.1 0.5 -0.5 0.8 0 0.4 0.6 0.6 1.5 0.7 7 1 -7.7 0.5 -1.2 0.5 -0.5 1 -0.3 1 0.3 0.5 0.7 0.5 1.8 0.3 -0.2 0.4 -1.1 0.3 0.1 0.5 1.4 0.5 3 0.3 0 0.4 -2.3" fill="none" stroke="#333" stroke-width="1.15" stroke-dasharray="6 2"/>
<path d="M366.5 371.6l0.3 -0.5 0.4 -0.4 0.8 0 0.5 0.3 0.5 1 0.5 2.6 0.3 0 0.2 -0.4 0.5 1.2 0.3 -0.3 0.4 -2.4 0.6 -1.1 0.4 -0.2 0.3 0.2 0.5 1.4 0.2 1.6 0.3 0.1 0.5 -2.5 0.5 -0.6 0.5 0.2 1 2.6 0.5 -0.2 0.3 0.5 0.4 3.3 0.6 -1.5 0.2 0.6 0.8 9.4 0.2 0.4 0.5 -7.6 0.5 -4.3 0.5 -1.3 0.3 0.2 0.4 1.3 0.6 -1.9 0.2 -0.4 0.2 -0.1 0.3 0.3 1 2.4 0.3 1.6 0.4 7.4 0.6 12.8 0.2 1.6 1 -19.6 0.8 -4.5 0.4 -0.8 0.6 0.2 0.7 2.4 0.5 5.2 1 22.9 0.2 -1.2 0.8 -20.1 1 -7.5 0.5 -1.7 0.3 -0.1 0.2 0.5 0.5 2.4 0.7 -3.3 0.3 -0.1 0.3 0.3 0.2 0.6 0.5 3.2 0.7 13.1 0.3 0.5 0.7 -12.1 1 -4.5 0.6 -0.6 0.4 -1.8 0.6 -0.6 1 -0.2 0.4 0.5 0.8 4.4 0.8 -3.9 0.2 -0.8 0.5 -0.6 0.7 0.2 0.8 -0.2 0.5 0.4 0.3 0.8 0.4 3.5 0.3 0.1 0.5 -3 0.2 -1 0.6 -0.8 0.2 -0.1 0.5 0.2 0.7 -0.3 0.6 0.2 0.4 1.1 0.6 2.9 0.2 0.2 0.2 0 0.3 -0.5 0.5 -2.6 0.2 -0.5 0.3 -0.1 0.5 0.3 0.5 -0.6 0.3 -0.1 0.4 0.5 0.3 0.6 0.7 6.2 0.8 -5.5 0.2 -0.6 0.3 0 0.3 0.4 0.4 2.5 0.6 1.5 0.2 1.8 0.2 -0.5 0.6 -3.9 0.2 -0.3 0.2 0.8 0.6 5.4 0.2 -0.2 0.8 -6.7 0.2 -0.6 0.2 0 0.6 1.2 0.4 -1.4 0.3 -0.4 0.3 0 0.4 0.8 0.3 1.2 1 9.8 0.7 -9.6 0.3 -0.8 0.3 0.1 0.4 1.4 0.8 -2.8 0.5 -0.3 0.5 0.5 0.5 2.2 0.7 9.8 0.8 -10.1 0.2 -0.6 0.3 0.3 0.3 1 0.2 0 0.5 -2.4 0.3 -0.4 0.4 -0.1 0.6 0.8 0.4 2.7 0.8 13 0.5 -9.7 0.3 -1.8 0.2 0.1 0.2 0.9 0.3 0 0.7 -4.8 0.3 -0.5 0.5 -0.2 0.5 0.8 0.5 2.6 0.8 16.1 0.7 -12.7 0.3 -0.4 0.4 5.7 0.8 -8.8 0.2 -1.3 0.3 -0.5 0.3 -0.1 0.4 1 0.3 1.2 0.5 6.2 0.8 26.5 0.7 -22.7 0.3 -1.8 0.2 1.1 0.2 -1 0.8 -9.2 0.5 -1.2 0.3 0 0.2 0.2 0.5 1.6 0.3 2 1 26.5 0.4 -16.9 0.3 -2.7 0.5 5 0.8 -12.6 0.4 -2.4 0.3 -0.3 0.3 -0.1 0.4 0.9 0.3 1.1 0.5 5.5 0.8 25.6 0.4 -15.2 0.3 -1.9 0.5 7.8 0.8 -17.9 0.2 -1.6 0.2 -0.1 0.3 1 0.3 0.3 0.2 -1 0.2 -0.2 0.3 0.9 0.5 6.5 0.8 33.7 0.2 -0.4 0.5 -19.6 0.3 -0.5 0.2 2.3 0.8 -19.6 0.2 -2.5 0.2 -1.1 0.3 -0.4 0.3 0.4 0.2 1.3 1 11.8 1 30.7 0.2 -3.1 0.6 -16.8 0.2 1.2 0.2 -2.8 0.6 -16.4 0.2 -3.7 0.5 -3.2 0.5 -0.7 0.5 0.8 0.5 3 0.2 3.2 1 38.8 0.3 -2.1 0.3 -8.4 0.2 -2.7 0.2 2.6 0.8 -26 0.2 -4.3 0.6 -3.8 0.4 -1.1 0.3 0 0.3 0.4 0.4 2.3 0.3 2.5 0.5 12.3 0.5 25.6 0.3 0.7 0.4 -13.2 0.3 0.7 0.3 -5.8 0.4 -17.4 0.6 -6 0.2 -1.1 0.2 -0.6 0.3 -0.1 0.5 0.8 0.2 1.3 0.8 10.2 0.8 30.9 0.2 4.3 0.2 -2.2 1.3 -37.5 0.5 -5.8 0.5 -1.9 0.3 -0.4 0.2 0 0.5 1 0.5 2.8 0.5 7.5 0.7 34.1 0.3 2.7 0.7 -11 0.6 -20.2 0.4 -11.3 0.6 -3.7 0.2 -0.7 0.2 -0.4 0.3 0 0.5 1.1 0.2 1.2 0.6 5 0.4 13.9 0.6 24.8 0.2 2 0.2 -0.7 0.6 -7.1 0.7 -29.4 0.5 -6.8 0.5 -1.9 0.3 0.3 0.2 1.3 0.5 6.1 0.5 -2.6 0.2 0.1 0.3 2.4 1 36.8 0.3 0.7 0.4 -1.6 1 -36.6 0.6 -6.1 0.2 -1.5 0.5 -1.2 0.3 0 0.2 0.3 0.5 2.3 0.7 9.6 0.8 30.6 0.2 4.4 0.3 -0.5 0.3 -3.1 0.2 -5.8 0.5 -22.8 0.5 -9 0.5 -4.6 0.5 -1.8 0.2 -0.3 0.3 0 0.3 0.3 0.4 1.8 0.6 4.5 0.2 4.4 0.8 33.4 0.2 3.8 0.2 -0.1 0.3 -1 0.3 -4.2 0.4 -25 0.6 -11.8 0.4 -4.3 0.6 -1.5 0.2 -0.1 0.2 0.5 0.8 3.8 0.2 -0.6 0.3 0.4 0.3 2.1 0.4 12.5 0.6 25.1 0.2 1.8 0.2 -1.6 0.3 -6 0.5 -24.8 0.5 -9.9 0.5 -3.6 0.5 -1.3 0.3 -0.3 0.4 0.1 0.6 1 0.2 1 0.5 4.3 0.3 4.6 0.7 34 0.3 3.9 0.2 -2.2 0.8 -32.9 0.4 -9.1 0.6 -2.9 0.2 -0.2 0.5 0.7 0.3 -0.2 0.7 -2.4 0.3 -0.1 0.2 0.2 0.2 0.7 0.6 3.5 0.4 12.1 0.6 20.1 0.2 -3.9 0.5 -19.6 0.5 -8.6 0.2 -0.7 0.6 3.6 0.2 0.5 0.5 -6.3 0.3 -1.6 0.4 -1.2 0.6 -0.1 0.4 1 0.6 3 0.4 10.4 0.6 19.7 1 -29.1 0.4 -4.1 0.6 -1.5 0.7 -0.8 0.7 0.3 0.8 -0.1 0.5 0.7 0.3 0.8 0.4 4 0.6 12.2 0.2 2.2 0.8 -15.4 0.4 -3.1 0.6 -0.8 0.4 -0.1 0.6 0.7 0.4 1.9 0.6 4.9 0.4 9.4 0.3 0.6 0.5 -9.1 0.5 -5.2 0.3 -1.1 1 -1.5 0.2 -0.2 0.2 0.2 0.3 0.4 0.5 2.1 0.5 7.1 0.5 20.4 0.2 -0.6 0.6 -20.3 0.4 -6.9 0.6 -2.2 0.4 -0.9 0.8 -0.3 0.5 0 0.5 0.4 0.5 0.9 0.5 1.9 0.5 5.1 0.7 30.5 0.3 3.8 0.5 -22.4 0.5 -12.3 0.5 -4.4 0.5 -1.9 0.7 -0.9 0.6 0 0.4 0.5 0.6 1 0.4 2.2 0.6 5.4 1 39 0.2 -4.4 0.5 -26.7 0.5 -10.7 0.2 -2.2 0.6 -2.2 0.4 -0.9 0.3 -0.2 0.5 0 0.8 1 0.4 1.7 0.8 7.5 1 40.5 0.2 0.7 0.3 -4.2 0.7 -34.8 0.3 -4.5 0.5 -4.5 0.8 -2.4 0.4 -0.5 0.6 0.1 0.7 1.5 0.7 4.1 0.6 8.9 0.7 34.9 0.3 0.9 0.2 -5.5 0.5 -26.9 0.5 -11.1 0.2 -2.5 0.6 -2.5 0.4 -0.8 0.6 0.5 0.4 -0.4 0.3 0 0.5 1 0.5 2.6 0.5 6.3 0.8 31.6 0.2 7.9 0.2 0.7 0.3 -1.1 0.7 -33.9 0.6 -9.5 0.4 -3.8 0.6 -1.8 0.4 -0.8 0.6 -0.2 0.4 0.3 0.8 2 0.5 3.7 0.5 9.9 0.8 34 0.2 -0.3 1 -40.4 0.2 -3.5 0.6 -3.6 0.7 -1.8 0.3 -0.3 0.4 0 0.8 0.9 0.5 1.5 0.7 6.6 0.6 13.4 0.4 26 0.3 2.7 0.3 -0.2 0.2 -4.8 0.5 -26.2 0.5 -11.4 0.5 -4 0.5 -0.9 0.5 -1.9 0.3 -0.5 0.4 -0.1 0.6 0.6 0.4 1.7 0.8 6.7 0.5 13 0.5 25 0.2 3 0.3 0.1 0.3 -0.5 0.2 -6.5 0.5 -23.9 0.5 -11.4 0.8 -5.9 0.4 -1.5 0.6 -0.6 0.4 0 0.3 0.2 0.7 2.1 0.8 6.7 0.5 13.9 0.5 25.1 0.2 2.2 0.3 0 0.3 -2.6 0.4 -25.6 0.6 -13.4 0.7 -6.7 0.5 -1.7 0.8 -0.9 0.4 0 0.3 0.2 0.7 1.8 0.8 5.9 0.5 12.4 0.5 26.6 0.2 3.8 0.3 0 0.3 -4.8 0.4 -26.8 0.6 -11.8 0.7 -5.9 0.7 -1.9 0.8 -0.6 0.8 0.3 0.7 1.5 0.5 2.8 0.2 2.8 0.6 13 0.4 27.4 0.3 2.1 0.7 -34.4 0.6 -9.8 0.4 -3.6 0.6 -1.6 0.4 -0.8 0.8 -0.4 0.8 0.2 0.4 0.7 0.6 1.3 0.4 3.1 0.6 8.5 0.7 35.1 0.3 -2 0.4 -27.4 0.6 -12.3 0.4 -4.2 0.6 -1.6 0.4 -0.7 0.8 -0.1 0.5 0.2 0.3 0.5 0.4 2.2 0.6 3.6 0.2 -0.3 0.2 0.3 0.6 5.8 0.7 34.5 0.3 4.5 0.2 -1.5 0.8 -35.4 0.4 -8.2 0.3 -1.7 0.3 -0.8 0.2 0.1 0.5 3.5 0.3 0.1 0.4 -4.6 0.6 -2 0.4 -0.6 0.6 0.2 0.4 1.1 0.6 2.8 0.2 2.9 0.5 14.2 0.5 26.1 0.2 -1.5 0.6 -27.5 0.4 -12.4 0.8 -5.2 0.5 -1.2 0.7 -0.8 0.6 -0.1 0.4 0.1 0.8 1.2 1.2 5 0.3 2.2 1 34.8 0.5 -24.1 0.5 -12.8 0.5 -4 0.5 -1.6 0.5 -0.7 0.8 -0.3 0.7 0.8 0.5 -0.6 0.2 0 0.6 0.5 0.4 1.5 0.6 2.9 0.4 6.2 0.6 21.3 0.2 2.8 0.8 -28.1 0.2 -3.1 0.5 -2.8 0.7 -1.4 0.6 -0.4 0.7 0 0.7 0.7 0.8 3.3 0.2 0 0.6 -1.2 0.2 0.2 0.2 1 0.6 6.1 0.7 24.3 0.5 -21.1 0.2 -5.8 0.6 -4.8 0.4 -1.7 0.6 -0.8 0.4 -0.3 0.8 -0.2 0.8 0.1 1 0.8 0.4 1.3 0.3 1.3 0.7 6.4 0.8 26.8 0.8 -26.7 0.4 -6.2 0.6 -2.1 0.7 -1.1 0.5 -0.3 0.8 0 0.7 0.3 0.5 0.5 0.5 0.9 0.5 1.8 0.5 4.1 0.5 10.6 0.5 20.2 0.3 1.9 0.7 -28.1 0.5 -7 0.5 -2.8 0.5 -1.4 1 -1.1 1.2 -0.4 1.3 0.2 0.7 1.1 0.6 2.7 0.7 12.3 0.5 -10.5 0.2 -2.7 0.6 -2.1 0.7 -1 1.5 -0.3 1.5 0.4 1 1.1 0.5 1.4 0.5 3.8 0.7 19.5 0.3 -2.2 0.7 -15.5 0.3 -0.9 0.5 -0.4 0.2 0.2 0.8 -4.9 0.5 -1.2 0.5 -0.4 0.5 -0.1 1.3 0.4 1 1.3 0.4 1.6 1 11.2 0.3 -1 0.3 0.6 0.4 10.2 0.6 19.7 0.2 3.6 1.2 -34.2 0.3 -1.4 0.3 0.5 0.2 -0.7 0.8 -7.6 0.2 -1.1 0.5 -0.9 0.5 0 0.2 0.3 0.6 1.8 0.4 5.2 0.6 8.9 0.2 0.4 1 -15.3 0.8 -2.8 0.4 -0.7 0.8 -0.6 2 -0.4 0.5 0.1 0.7 0.6 0.6 -0.2 0.2 0 0.5 0.9 0.7 4.7 0.8 -5 0.8 -1.1 1 -0.3 1.7 -0.1 1.5 0.1 1 0.3 0.5 0.6 0.3 0.6 0.4 2.9 0.3 -0.3 0.5 -2.6 0.2 -0.4 0.6 -0.1 0.4 0.6 0.3 0.9 0.5 4.4 0.2 0.6 0.6 -3.9 0.2 -0.6 0.2 0.5 0.6 2.5 0.7 -4.1 0.5 -0.7 0.5 -0.1 0.3 0.1 0.4 0.8 0.6 2 0.7 9.3 1 -10.1 0.5 -1.7 0.5 -0.7 1 -0.3 1 0.3 0.5 1 0.5 2.5 0.3 -0.3 0.4 -1.6 0.3 0.1 0.5 2 0.5 4 0.3 -0.1 0.4 -3" fill="none" stroke="#000" stroke-width="1.6"/>
<rect x="95.5" y="69.5" width="404.00" height="159.70" fill="none" stroke="#1a1a1a" stroke-width="1.3"/>
<path d="M171.25 229.2v-3.19M171.25 69.5v3.19M297.50 229.2v-3.19M297.50 69.5v3.19M423.75 229.2v-3.19M423.75 69.5v3.19M95.50 229.2v-1.60M95.50 69.5v1.60M120.75 229.2v-1.60M120.75 69.5v1.60M146.00 229.2v-1.60M146.00 69.5v1.60M196.50 229.2v-1.60M196.50 69.5v1.60M221.75 229.2v-1.60M221.75 69.5v1.60M247.00 229.2v-1.60M247.00 69.5v1.60M272.25 229.2v-1.60M272.25 69.5v1.60M322.75 229.2v-1.60M322.75 69.5v1.60M348.00 229.2v-1.60M348.00 69.5v1.60M373.25 229.2v-1.60M373.25 69.5v1.60M398.50 229.2v-1.60M398.50 69.5v1.60M449.00 229.2v-1.60M449.00 69.5v1.60M474.25 229.2v-1.60M474.25 69.5v1.60M499.50 229.2v-1.60M499.50 69.5v1.60M95.5 229.20h8.08M499.5 229.20h-8.08M95.5 213.18h4.04M499.5 213.18h-4.04M95.5 203.80h4.04M499.5 203.80h-4.04M95.5 197.15h4.04M499.5 197.15h-4.04M95.5 191.99h4.04M499.5 191.99h-4.04M95.5 187.78h4.04M499.5 187.78h-4.04M95.5 184.21h4.04M499.5 184.21h-4.04M95.5 181.13h4.04M499.5 181.13h-4.04M95.5 178.40h4.04M499.5 178.40h-4.04M95.5 175.97h8.08M499.5 175.97h-8.08M95.5 159.94h4.04M499.5 159.94h-4.04M95.5 150.57h4.04M499.5 150.57h-4.04M95.5 143.92h4.04M499.5 143.92h-4.04M95.5 138.76h4.04M499.5 138.76h-4.04M95.5 134.54h4.04M499.5 134.54h-4.04M95.5 130.98h4.04M499.5 130.98h-4.04M95.5 127.89h4.04M499.5 127.89h-4.04M95.5 125.17h4.04M499.5 125.17h-4.04M95.5 122.73h8.08M499.5 122.73h-8.08M95.5 106.71h4.04M499.5 106.71h-4.04M95.5 97.33h4.04M499.5 97.33h-4.04M95.5 90.68h4.04M499.5 90.68h-4.04M95.5 85.52h4.04M499.5 85.52h-4.04M95.5 81.31h4.04M499.5 81.31h-4.04M95.5 77.75h4.04M499.5 77.75h-4.04M95.5 74.66h4.04M499.5 74.66h-4.04M95.5 71.94h4.04M499.5 71.94h-4.04M95.5 69.50h8.08M499.5 69.50h-8.08" stroke="#1a1a1a" stroke-width="1.2" fill="none"/>
<path d="M58.40 71.40L61.50 69.50V80.70" stroke="#111" stroke-width="1.25" fill="none" stroke-linejoin="round"/>
<ellipse cx="71.70" cy="74.95" rx="3.65" ry="5.5" stroke="#111" stroke-width="1.25" fill="none"/>
<path d="M78.40 67.50C78.40 66.20 79.30 65.80 80.30 65.80C81.50 65.80 82.20 66.60 82.20 67.70C82.20 68.90 81.30 69.50 80.30 70.20C79.20 71.00 78.30 71.80 78.20 73.00H82.50" stroke="#111" stroke-width="1.3" fill="none" stroke-linejoin="round" stroke-linecap="round"/>
<path d="M85.30 67.20L86.90 65.80V73.10" stroke="#111" stroke-width="1.3" fill="none" stroke-linejoin="round" stroke-linecap="round"/>
<path d="M58.40 119.80L61.50 117.90V129.10" stroke="#111" stroke-width="1.25" fill="none" stroke-linejoin="round"/>
<ellipse cx="71.70" cy="123.35" rx="3.65" ry="5.5" stroke="#111" stroke-width="1.25" fill="none"/>
<path d="M78.40 115.90C78.40 114.60 79.30 114.20 80.30 114.20C81.50 114.20 82.20 115.00 82.20 116.10C82.20 117.30 81.30 117.90 80.30 118.60C79.20 119.40 78.30 120.20 78.20 121.40H82.50" stroke="#111" stroke-width="1.3" fill="none" stroke-linejoin="round" stroke-linecap="round"/>
<ellipse cx="86.50" cy="117.75" rx="1.95" ry="3.30" stroke="#111" stroke-width="1.3" fill="none"/>
<path d="M58.40 173.50L61.50 171.60V182.80" stroke="#111" stroke-width="1.25" fill="none" stroke-linejoin="round"/>
<ellipse cx="71.70" cy="177.05" rx="3.65" ry="5.5" stroke="#111" stroke-width="1.25" fill="none"/>
<path d="M79.10 169.30L80.70 167.90V175.20" stroke="#111" stroke-width="1.3" fill="none" stroke-linejoin="round" stroke-linecap="round"/>
<ellipse cx="86.40" cy="170.20" rx="1.95" ry="2.25" stroke="#111" stroke-width="1.3" fill="none"/><path d="M88.35 170.10C88.35 173.30 87.70 175.10 86.30 175.10C85.30 175.10 84.70 174.60 84.50 173.90" stroke="#111" stroke-width="1.3" fill="none" stroke-linejoin="round" stroke-linecap="round"/>
<path d="M58.40 219.90L61.50 218.00V229.20" stroke="#111" stroke-width="1.25" fill="none" stroke-linejoin="round"/>
<ellipse cx="71.70" cy="223.45" rx="3.65" ry="5.5" stroke="#111" stroke-width="1.25" fill="none"/>
<path d="M79.10 215.70L80.70 214.30V221.60" stroke="#111" stroke-width="1.3" fill="none" stroke-linejoin="round" stroke-linecap="round"/>
<ellipse cx="86.50" cy="216.05" rx="1.70" ry="1.75" stroke="#111" stroke-width="1.3" fill="none"/><ellipse cx="86.50" cy="219.60" rx="2.00" ry="1.85" stroke="#111" stroke-width="1.3" fill="none"/>
<text transform="translate(171.25,253.7) scale(1.1,1)" text-anchor="middle" font-size="17">0.760</text>
<text transform="translate(297.50,253.7) scale(1.1,1)" text-anchor="middle" font-size="17">0.765</text>
<text transform="translate(423.75,253.7) scale(1.1,1)" text-anchor="middle" font-size="17">0.770</text>
<rect x="609.5" y="58.0" width="404.50" height="159.50" fill="none" stroke="#1a1a1a" stroke-width="1.3"/>
<path d="M621.76 217.5v-3.19M621.76 58.0v3.19M683.05 217.5v-3.19M683.05 58.0v3.19M744.33 217.5v-3.19M744.33 58.0v3.19M805.62 217.5v-3.19M805.62 58.0v3.19M866.91 217.5v-3.19M866.91 58.0v3.19M928.20 217.5v-3.19M928.20 58.0v3.19M989.48 217.5v-3.19M989.48 58.0v3.19M609.50 217.5v-1.59M609.50 58.0v1.59M634.02 217.5v-1.59M634.02 58.0v1.59M646.27 217.5v-1.59M646.27 58.0v1.59M658.53 217.5v-1.59M658.53 58.0v1.59M670.79 217.5v-1.59M670.79 58.0v1.59M695.30 217.5v-1.59M695.30 58.0v1.59M707.56 217.5v-1.59M707.56 58.0v1.59M719.82 217.5v-1.59M719.82 58.0v1.59M732.08 217.5v-1.59M732.08 58.0v1.59M756.59 217.5v-1.59M756.59 58.0v1.59M768.85 217.5v-1.59M768.85 58.0v1.59M781.11 217.5v-1.59M781.11 58.0v1.59M793.36 217.5v-1.59M793.36 58.0v1.59M817.88 217.5v-1.59M817.88 58.0v1.59M830.14 217.5v-1.59M830.14 58.0v1.59M842.39 217.5v-1.59M842.39 58.0v1.59M854.65 217.5v-1.59M854.65 58.0v1.59M879.17 217.5v-1.59M879.17 58.0v1.59M891.42 217.5v-1.59M891.42 58.0v1.59M903.68 217.5v-1.59M903.68 58.0v1.59M915.94 217.5v-1.59M915.94 58.0v1.59M940.45 217.5v-1.59M940.45 58.0v1.59M952.71 217.5v-1.59M952.71 58.0v1.59M964.97 217.5v-1.59M964.97 58.0v1.59M977.23 217.5v-1.59M977.23 58.0v1.59M1001.74 217.5v-1.59M1001.74 58.0v1.59M1014.00 217.5v-1.59M1014.00 58.0v1.59M609.5 217.50h8.09M1014.0 217.50h-8.09M609.5 196.63h4.04M1014.0 196.63h-4.04M609.5 184.43h4.04M1014.0 184.43h-4.04M609.5 175.77h4.04M1014.0 175.77h-4.04M609.5 169.05h4.04M1014.0 169.05h-4.04M609.5 163.56h4.04M1014.0 163.56h-4.04M609.5 158.92h4.04M1014.0 158.92h-4.04M609.5 154.90h4.04M1014.0 154.90h-4.04M609.5 151.35h4.04M1014.0 151.35h-4.04M609.5 148.18h8.09M1014.0 148.18h-8.09M609.5 127.32h4.04M1014.0 127.32h-4.04M609.5 115.11h4.04M1014.0 115.11h-4.04M609.5 106.45h4.04M1014.0 106.45h-4.04M609.5 99.73h4.04M1014.0 99.73h-4.04M609.5 94.24h4.04M1014.0 94.24h-4.04M609.5 89.60h4.04M1014.0 89.60h-4.04M609.5 85.58h4.04M1014.0 85.58h-4.04M609.5 82.04h4.04M1014.0 82.04h-4.04M609.5 78.86h8.09M1014.0 78.86h-8.09" stroke="#1a1a1a" stroke-width="1.2" fill="none"/>
<path d="M572.30 75.20L575.40 73.30V84.50" stroke="#111" stroke-width="1.25" fill="none" stroke-linejoin="round"/>
<ellipse cx="585.60" cy="78.75" rx="3.65" ry="5.5" stroke="#111" stroke-width="1.25" fill="none"/>
<path d="M592.30 71.30C592.30 70.00 593.20 69.60 594.20 69.60C595.40 69.60 596.10 70.40 596.10 71.50C596.10 72.70 595.20 73.30 594.20 74.00C593.10 74.80 592.20 75.60 592.10 76.80H596.40" stroke="#111" stroke-width="1.3" fill="none" stroke-linejoin="round" stroke-linecap="round"/>
<ellipse cx="600.40" cy="73.15" rx="1.95" ry="3.30" stroke="#111" stroke-width="1.3" fill="none"/>
<path d="M572.30 145.70L575.40 143.80V155.00" stroke="#111" stroke-width="1.25" fill="none" stroke-linejoin="round"/>
<ellipse cx="585.60" cy="149.25" rx="3.65" ry="5.5" stroke="#111" stroke-width="1.25" fill="none"/>
<path d="M593.00 141.50L594.60 140.10V147.40" stroke="#111" stroke-width="1.3" fill="none" stroke-linejoin="round" stroke-linecap="round"/>
<ellipse cx="600.30" cy="142.40" rx="1.95" ry="2.25" stroke="#111" stroke-width="1.3" fill="none"/><path d="M602.25 142.30C602.25 145.50 601.60 147.30 600.20 147.30C599.20 147.30 598.60 146.80 598.40 146.10" stroke="#111" stroke-width="1.3" fill="none" stroke-linejoin="round" stroke-linecap="round"/>
<path d="M572.30 207.60L575.40 205.70V216.90" stroke="#111" stroke-width="1.25" fill="none" stroke-linejoin="round"/>
<ellipse cx="585.60" cy="211.15" rx="3.65" ry="5.5" stroke="#111" stroke-width="1.25" fill="none"/>
<path d="M593.00 203.40L594.60 202.00V209.30" stroke="#111" stroke-width="1.3" fill="none" stroke-linejoin="round" stroke-linecap="round"/>
<ellipse cx="600.40" cy="203.75" rx="1.70" ry="1.75" stroke="#111" stroke-width="1.3" fill="none"/><ellipse cx="600.40" cy="207.30" rx="2.00" ry="1.85" stroke="#111" stroke-width="1.3" fill="none"/>
<text transform="translate(621.76,242.3) scale(1.1,1)" text-anchor="middle" font-size="17"> .590</text>
<path d="M600.25 232.50L603.35 230.60V242.20" stroke="#111" stroke-width="1.25" fill="none" stroke-linejoin="round"/>
<text transform="translate(683.05,242.3) scale(1.1,1)" text-anchor="middle" font-size="17"> .595</text>
<path d="M661.54 232.50L664.64 230.60V242.20" stroke="#111" stroke-width="1.25" fill="none" stroke-linejoin="round"/>
<text transform="translate(744.33,242.3) scale(1.1,1)" text-anchor="middle" font-size="17"> .600</text>
<path d="M722.83 232.50L725.93 230.60V242.20" stroke="#111" stroke-width="1.25" fill="none" stroke-linejoin="round"/>
<text transform="translate(805.62,242.3) scale(1.1,1)" text-anchor="middle" font-size="17"> .605</text>
<path d="M784.12 232.50L787.22 230.60V242.20" stroke="#111" stroke-width="1.25" fill="none" stroke-linejoin="round"/>
<text transform="translate(866.91,242.3) scale(1.1,1)" text-anchor="middle" font-size="17"> .6 0</text>
<path d="M845.40 232.50L848.50 230.60V242.20" stroke="#111" stroke-width="1.25" fill="none" stroke-linejoin="round"/>
<path d="M871.40 232.50L874.50 230.60V242.20" stroke="#111" stroke-width="1.25" fill="none" stroke-linejoin="round"/>
<text transform="translate(928.20,242.3) scale(1.1,1)" text-anchor="middle" font-size="17"> .6 5</text>
<path d="M906.69 232.50L909.79 230.60V242.20" stroke="#111" stroke-width="1.25" fill="none" stroke-linejoin="round"/>
<path d="M932.69 232.50L935.79 230.60V242.20" stroke="#111" stroke-width="1.25" fill="none" stroke-linejoin="round"/>
<text transform="translate(989.48,242.3) scale(1.1,1)" text-anchor="middle" font-size="17"> .620</text>
<path d="M967.98 232.50L971.08 230.60V242.20" stroke="#111" stroke-width="1.25" fill="none" stroke-linejoin="round"/>
<rect x="351.05" y="324.5" width="403.45" height="158.80" fill="none" stroke="#1a1a1a" stroke-width="1.3"/>
<path d="M351.05 483.3v-3.18M351.05 324.5v3.18M444.88 483.3v-3.18M444.88 324.5v3.18M538.70 483.3v-3.18M538.70 324.5v3.18M632.53 483.3v-3.18M632.53 324.5v3.18M726.35 483.3v-3.18M726.35 324.5v3.18M360.43 483.3v-1.59M360.43 324.5v1.59M369.82 483.3v-1.59M369.82 324.5v1.59M379.20 483.3v-1.59M379.20 324.5v1.59M388.58 483.3v-1.59M388.58 324.5v1.59M397.96 483.3v-1.59M397.96 324.5v1.59M407.35 483.3v-1.59M407.35 324.5v1.59M416.73 483.3v-1.59M416.73 324.5v1.59M426.11 483.3v-1.59M426.11 324.5v1.59M435.49 483.3v-1.59M435.49 324.5v1.59M454.26 483.3v-1.59M454.26 324.5v1.59M463.64 483.3v-1.59M463.64 324.5v1.59M473.02 483.3v-1.59M473.02 324.5v1.59M482.41 483.3v-1.59M482.41 324.5v1.59M491.79 483.3v-1.59M491.79 324.5v1.59M501.17 483.3v-1.59M501.17 324.5v1.59M510.55 483.3v-1.59M510.55 324.5v1.59M519.94 483.3v-1.59M519.94 324.5v1.59M529.32 483.3v-1.59M529.32 324.5v1.59M548.08 483.3v-1.59M548.08 324.5v1.59M557.47 483.3v-1.59M557.47 324.5v1.59M566.85 483.3v-1.59M566.85 324.5v1.59M576.23 483.3v-1.59M576.23 324.5v1.59M585.61 483.3v-1.59M585.61 324.5v1.59M595.00 483.3v-1.59M595.00 324.5v1.59M604.38 483.3v-1.59M604.38 324.5v1.59M613.76 483.3v-1.59M613.76 324.5v1.59M623.14 483.3v-1.59M623.14 324.5v1.59M641.91 483.3v-1.59M641.91 324.5v1.59M651.29 483.3v-1.59M651.29 324.5v1.59M660.67 483.3v-1.59M660.67 324.5v1.59M670.06 483.3v-1.59M670.06 324.5v1.59M679.44 483.3v-1.59M679.44 324.5v1.59M688.82 483.3v-1.59M688.82 324.5v1.59M698.20 483.3v-1.59M698.20 324.5v1.59M707.59 483.3v-1.59M707.59 324.5v1.59M716.97 483.3v-1.59M716.97 324.5v1.59M735.73 483.3v-1.59M735.73 324.5v1.59M745.12 483.3v-1.59M745.12 324.5v1.59M754.50 483.3v-1.59M754.50 324.5v1.59M351.05 483.30h4.03M754.5 483.30h-4.03M351.05 475.74h4.03M754.5 475.74h-4.03M351.05 470.38h4.03M754.5 470.38h-4.03M351.05 466.21h4.03M754.5 466.21h-4.03M351.05 462.82h4.03M754.5 462.82h-4.03M351.05 459.94h4.03M754.5 459.94h-4.03M351.05 457.45h4.03M754.5 457.45h-4.03M351.05 455.26h4.03M754.5 455.26h-4.03M351.05 453.29h8.07M754.5 453.29h-8.07M351.05 440.37h4.03M754.5 440.37h-4.03M351.05 432.81h4.03M754.5 432.81h-4.03M351.05 427.44h4.03M754.5 427.44h-4.03M351.05 423.28h4.03M754.5 423.28h-4.03M351.05 419.89h4.03M754.5 419.89h-4.03M351.05 417.01h4.03M754.5 417.01h-4.03M351.05 414.52h4.03M754.5 414.52h-4.03M351.05 412.33h4.03M754.5 412.33h-4.03M351.05 410.36h8.07M754.5 410.36h-8.07M351.05 397.44h4.03M754.5 397.44h-4.03M351.05 389.88h4.03M754.5 389.88h-4.03M351.05 384.51h4.03M754.5 384.51h-4.03M351.05 380.35h4.03M754.5 380.35h-4.03M351.05 376.95h4.03M754.5 376.95h-4.03M351.05 374.08h4.03M754.5 374.08h-4.03M351.05 371.59h4.03M754.5 371.59h-4.03M351.05 369.39h4.03M754.5 369.39h-4.03M351.05 367.43h8.07M754.5 367.43h-8.07M351.05 354.51h4.03M754.5 354.51h-4.03M351.05 346.95h4.03M754.5 346.95h-4.03M351.05 341.58h4.03M754.5 341.58h-4.03M351.05 337.42h4.03M754.5 337.42h-4.03M351.05 334.02h4.03M754.5 334.02h-4.03M351.05 331.15h4.03M754.5 331.15h-4.03M351.05 328.66h4.03M754.5 328.66h-4.03M351.05 326.46h4.03M754.5 326.46h-4.03M351.05 324.50h8.07M754.5 324.50h-8.07" stroke="#1a1a1a" stroke-width="1.2" fill="none"/>
<path d="M313.00 326.00L316.10 324.10V335.30" stroke="#111" stroke-width="1.25" fill="none" stroke-linejoin="round"/>
<ellipse cx="326.30" cy="329.55" rx="3.65" ry="5.5" stroke="#111" stroke-width="1.25" fill="none"/>
<path d="M333.00 322.10C333.00 320.80 333.90 320.40 334.90 320.40C336.10 320.40 336.80 321.20 336.80 322.30C336.80 323.50 335.90 324.10 334.90 324.80C333.80 325.60 332.90 326.40 332.80 327.60H337.10" stroke="#111" stroke-width="1.3" fill="none" stroke-linejoin="round" stroke-linecap="round"/>
<ellipse cx="341.10" cy="323.95" rx="1.95" ry="3.30" stroke="#111" stroke-width="1.3" fill="none"/>
<path d="M313.00 364.30L316.10 362.40V373.60" stroke="#111" stroke-width="1.25" fill="none" stroke-linejoin="round"/>
<ellipse cx="326.30" cy="367.85" rx="3.65" ry="5.5" stroke="#111" stroke-width="1.25" fill="none"/>
<path d="M333.70 360.10L335.30 358.70V366.00" stroke="#111" stroke-width="1.3" fill="none" stroke-linejoin="round" stroke-linecap="round"/>
<ellipse cx="341.00" cy="361.00" rx="1.95" ry="2.25" stroke="#111" stroke-width="1.3" fill="none"/><path d="M342.95 360.90C342.95 364.10 342.30 365.90 340.90 365.90C339.90 365.90 339.30 365.40 339.10 364.70" stroke="#111" stroke-width="1.3" fill="none" stroke-linejoin="round" stroke-linecap="round"/>
<path d="M313.00 407.30L316.10 405.40V416.60" stroke="#111" stroke-width="1.25" fill="none" stroke-linejoin="round"/>
<ellipse cx="326.30" cy="410.85" rx="3.65" ry="5.5" stroke="#111" stroke-width="1.25" fill="none"/>
<path d="M333.70 403.10L335.30 401.70V409.00" stroke="#111" stroke-width="1.3" fill="none" stroke-linejoin="round" stroke-linecap="round"/>
<ellipse cx="341.10" cy="403.45" rx="1.70" ry="1.75" stroke="#111" stroke-width="1.3" fill="none"/><ellipse cx="341.10" cy="407.00" rx="2.00" ry="1.85" stroke="#111" stroke-width="1.3" fill="none"/>
<path d="M313.00 450.30L316.10 448.40V459.60" stroke="#111" stroke-width="1.25" fill="none" stroke-linejoin="round"/>
<ellipse cx="326.30" cy="453.85" rx="3.65" ry="5.5" stroke="#111" stroke-width="1.25" fill="none"/>
<path d="M333.70 446.10L335.30 444.70V452.00" stroke="#111" stroke-width="1.3" fill="none" stroke-linejoin="round" stroke-linecap="round"/>
<path d="M339.00 444.80H343.20C341.70 446.70 340.80 449.30 340.50 451.90" stroke="#111" stroke-width="1.3" fill="none" stroke-linejoin="round" stroke-linecap="round"/>
<text transform="translate(351.05,508.0) scale(1.1,1)" text-anchor="middle" font-size="17">2.04</text>
<text transform="translate(444.88,508.0) scale(1.1,1)" text-anchor="middle" font-size="17">2.05</text>
<text transform="translate(538.70,508.0) scale(1.1,1)" text-anchor="middle" font-size="17">2.06</text>
<text transform="translate(632.53,508.0) scale(1.1,1)" text-anchor="middle" font-size="17">2.07</text>
<text transform="translate(726.35,508.0) scale(1.1,1)" text-anchor="middle" font-size="17">2.08</text>
<g transform="translate(29.3,261.8) rotate(-90)">
<text x="-0.60" y="0" font-size="17" textLength="68.20" lengthAdjust="spacingAndGlyphs">Intensity</text>
<text x="75.8" y="0" font-size="17">(</text>
<text x="84.00" y="0" font-size="17" textLength="18.30" lengthAdjust="spacingAndGlyphs">ph</text>
<path d="M103.90 3.3L113.70 -14.2" stroke="#111" stroke-width="1.3" fill="none"/>
<text x="114.90" y="0" font-size="17" textLength="15.70" lengthAdjust="spacingAndGlyphs">sr</text>
<path d="M131.90 3.3L141.30 -14.2" stroke="#111" stroke-width="1.3" fill="none"/>
<text x="142.90" y="0" font-size="17" textLength="26.70" lengthAdjust="spacingAndGlyphs">sec</text>
<path d="M171.50 3.3L181.00 -14.2" stroke="#111" stroke-width="1.3" fill="none"/>
<text x="181.80" y="0" font-size="17" textLength="12.80" lengthAdjust="spacingAndGlyphs" font-family="Liberation Serif" font-style="italic" style="stroke-width:0.1px">μ</text>
<text x="194.90" y="0" font-size="17" textLength="13.90" lengthAdjust="spacingAndGlyphs">m</text>
<path d="M211.10 3.3L220.20 -14.2" stroke="#111" stroke-width="1.3" fill="none"/>
<text x="222.20" y="0" font-size="17" textLength="14.30" lengthAdjust="spacingAndGlyphs">m</text>
<text x="238.2" y="-8" font-size="11" style="stroke-width:0.1px" textLength="6" lengthAdjust="spacingAndGlyphs">2</text>
<text x="244.9" y="0" font-size="17">)</text>
</g>
<g transform="translate(556.0,263.5) rotate(-90)">
<text x="-0.60" y="0" font-size="17" textLength="68.20" lengthAdjust="spacingAndGlyphs">Intensity</text>
<text x="75.8" y="0" font-size="17">(</text>
<text x="84.00" y="0" font-size="17" textLength="18.30" lengthAdjust="spacingAndGlyphs">ph</text>
<path d="M103.90 3.3L113.70 -14.2" stroke="#111" stroke-width="1.3" fill="none"/>
<text x="114.90" y="0" font-size="17" textLength="15.70" lengthAdjust="spacingAndGlyphs">sr</text>
<path d="M131.90 3.3L141.30 -14.2" stroke="#111" stroke-width="1.3" fill="none"/>
<text x="142.90" y="0" font-size="17" textLength="26.70" lengthAdjust="spacingAndGlyphs">sec</text>
<path d="M171.50 3.3L181.00 -14.2" stroke="#111" stroke-width="1.3" fill="none"/>
<text x="181.80" y="0" font-size="17" textLength="12.80" lengthAdjust="spacingAndGlyphs" font-family="Liberation Serif" font-style="italic" style="stroke-width:0.1px">μ</text>
<text x="194.90" y="0" font-size="17" textLength="13.90" lengthAdjust="spacingAndGlyphs">m</text>
<path d="M211.10 3.3L220.20 -14.2" stroke="#111" stroke-width="1.3" fill="none"/>
<text x="222.20" y="0" font-size="17" textLength="14.30" lengthAdjust="spacingAndGlyphs">m</text>
<text x="238.2" y="-8" font-size="11" style="stroke-width:0.1px" textLength="6" lengthAdjust="spacingAndGlyphs">2</text>
<text x="244.9" y="0" font-size="17">)</text>
</g>
<g transform="translate(286.7,540.4) rotate(-90)">
<text x="-0.60" y="0" font-size="17" textLength="68.20" lengthAdjust="spacingAndGlyphs">Intensity</text>
<text x="75.8" y="0" font-size="17">(</text>
<text x="84.00" y="0" font-size="17" textLength="18.30" lengthAdjust="spacingAndGlyphs">ph</text>
<path d="M103.90 3.3L113.70 -14.2" stroke="#111" stroke-width="1.3" fill="none"/>
<text x="114.90" y="0" font-size="17" textLength="15.70" lengthAdjust="spacingAndGlyphs">sr</text>
<path d="M131.90 3.3L141.30 -14.2" stroke="#111" stroke-width="1.3" fill="none"/>
<text x="142.90" y="0" font-size="17" textLength="26.70" lengthAdjust="spacingAndGlyphs">sec</text>
<path d="M171.50 3.3L181.00 -14.2" stroke="#111" stroke-width="1.3" fill="none"/>
<text x="181.80" y="0" font-size="17" textLength="12.80" lengthAdjust="spacingAndGlyphs" font-family="Liberation Serif" font-style="italic" style="stroke-width:0.1px">μ</text>
<text x="194.90" y="0" font-size="17" textLength="13.90" lengthAdjust="spacingAndGlyphs">m</text>
<path d="M211.10 3.3L220.20 -14.2" stroke="#111" stroke-width="1.3" fill="none"/>
<text x="222.20" y="0" font-size="17" textLength="14.30" lengthAdjust="spacingAndGlyphs">m</text>
<text x="238.2" y="-8" font-size="11" style="stroke-width:0.1px" textLength="6" lengthAdjust="spacingAndGlyphs">2</text>
<text x="244.9" y="0" font-size="17">)</text>
</g>
<text x="481.3" y="528.2" font-size="16.6" textLength="90.2" lengthAdjust="spacingAndGlyphs">Wavelength</text>
<text x="580.2" y="528.2" font-size="17">(</text>
<text x="586.3" y="528.2" font-size="17" font-family="Liberation Serif" font-style="italic" style="stroke-width:0.1px" textLength="10.5" lengthAdjust="spacingAndGlyphs">μ</text>
<text x="597.2" y="528.2" font-size="17" textLength="18" lengthAdjust="spacingAndGlyphs">m</text>
<text x="616.2" y="528.2" font-size="17">)</text>
</svg></body></html>
